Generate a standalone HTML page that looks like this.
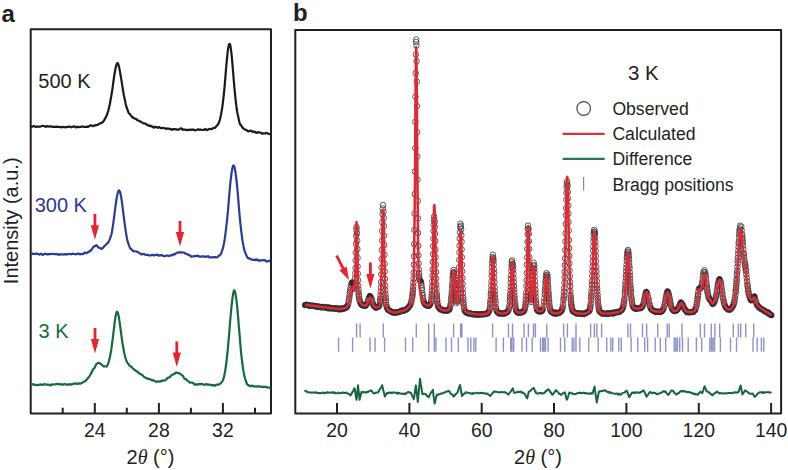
<!DOCTYPE html>
<html><head><meta charset="utf-8"><title>Figure</title>
<style>html,body{margin:0;padding:0;background:#fff;width:788px;height:470px;overflow:hidden;position:relative}</style>
</head><body>
<svg width="788" height="470" viewBox="0 0 788 470" style="position:absolute;left:0;top:0">
<rect width="788" height="470" fill="#fff"/>
<text x="1.5" y="21.5" style="font-family:'Liberation Sans',sans-serif;font-weight:bold;font-size:24px" fill="#231f20">a</text>
<text x="293" y="21" style="font-family:'Liberation Sans',sans-serif;font-weight:bold;font-size:24px" fill="#231f20">b</text>
<g fill="none" stroke="#231f20" stroke-width="2" stroke-linejoin="round">
<path d="M30.7 29.2H271V413.6H30.7Z"/>
<path d="M62.7 413.6V407.8M94.8 413.6V403.1M126.8 413.6V407.8M158.9 413.6V403.1M190.9 413.6V407.8M222.9 413.6V403.1M255.0 413.6V407.8"/>
</g>
<path d="M31.5 126.6L32.1 126.6L32.7 126.4L33.3 126.3L33.9 126.1L34.5 126.3L35.1 126.7L35.7 126.8L36.3 126.7L36.9 126.5L37.5 126.7L38.1 126.8L38.7 126.6L39.3 126.5L39.9 126.6L40.5 126.5L41.1 126.5L41.7 126.0L42.3 126.0L42.9 125.7L43.5 126.0L44.1 126.1L44.7 126.5L45.3 126.6L45.9 126.8L46.5 126.3L47.1 126.1L47.7 126.2L48.3 126.7L48.9 126.5L49.5 126.4L50.1 126.2L50.7 126.4L51.3 126.7L51.9 126.7L52.5 126.9L53.1 126.8L53.7 126.9L54.3 126.9L54.9 126.7L55.5 126.9L56.1 126.7L56.7 126.7L57.3 126.9L57.9 126.9L58.5 127.0L59.1 126.8L59.7 127.0L60.3 127.2L60.9 127.3L61.5 127.2L62.1 126.9L62.7 126.8L63.3 127.0L63.9 127.2L64.5 127.0L65.1 127.2L65.7 127.4L66.3 127.2L66.9 127.1L67.5 126.8L68.1 126.9L68.7 126.7L69.3 126.6L69.9 126.6L70.5 127.0L71.1 127.3L71.7 127.1L72.3 126.8L72.9 126.7L73.5 126.5L74.1 126.6L74.7 126.4L75.3 127.1L75.9 127.3L76.5 127.3L77.1 126.9L77.7 126.7L78.3 127.1L78.9 127.1L79.5 127.0L80.1 126.8L80.7 126.8L81.3 126.8L81.9 126.5L82.5 126.5L83.1 126.5L83.7 126.9L84.3 127.0L84.9 127.0L85.5 126.9L86.1 126.7L86.7 126.8L87.3 126.7L87.9 126.8L88.5 126.3L89.1 126.3L89.7 125.8L90.3 125.5L90.9 125.3L91.5 125.4L92.1 125.8L92.7 126.2L93.3 126.1L93.9 125.8L94.5 125.3L95.1 125.4L95.7 125.3L96.3 125.1L96.9 125.0L97.5 124.9L98.1 124.6L98.7 124.2L99.3 123.8L99.9 123.6L100.5 123.3L101.1 122.8L101.7 122.8L102.3 122.4L102.9 122.1L103.5 121.2L104.1 120.4L104.7 119.2L105.3 118.1L105.9 117.1L106.5 115.7L107.1 114.6L107.7 112.3L108.3 110.8L108.9 108.1L109.5 105.9L110.1 102.8L110.7 99.3L111.3 95.8L111.9 92.2L112.5 88.4L113.1 84.0L113.7 79.5L114.3 75.3L114.9 71.8L115.5 68.5L116.1 66.1L116.7 64.0L117.3 63.2L117.9 63.2L118.5 64.9L119.1 67.1L119.7 70.4L120.3 73.5L120.9 77.0L121.5 80.6L122.1 84.4L122.7 88.3L123.3 92.0L123.9 95.4L124.5 98.3L125.1 101.0L125.7 104.0L126.3 106.4L126.9 108.3L127.5 109.7L128.1 111.6L128.7 112.7L129.3 113.7L129.9 114.2L130.5 114.9L131.1 115.7L131.7 116.4L132.3 117.3L132.9 117.4L133.5 117.9L134.1 118.2L134.7 118.7L135.3 118.7L135.9 118.9L136.5 119.5L137.1 119.9L137.7 120.5L138.3 120.5L138.9 120.8L139.5 121.0L140.1 121.4L140.7 121.7L141.3 122.0L141.9 122.2L142.5 122.8L143.1 123.2L143.7 123.5L144.3 123.5L144.9 123.3L145.5 123.7L146.1 124.2L146.7 124.7L147.3 124.9L147.9 125.1L148.5 125.5L149.1 125.8L149.7 125.7L150.3 126.1L150.9 125.8L151.5 126.3L152.1 126.3L152.7 126.9L153.3 127.2L153.9 127.6L154.5 127.4L155.1 126.8L155.7 126.8L156.3 127.0L156.9 127.4L157.5 127.6L158.1 127.6L158.7 127.2L159.3 127.2L159.9 127.7L160.5 128.1L161.1 128.2L161.7 128.1L162.3 127.9L162.9 128.0L163.5 128.0L164.1 128.1L164.7 128.3L165.3 128.5L165.9 129.0L166.5 128.7L167.1 128.7L167.7 128.4L168.3 128.5L168.9 128.7L169.5 128.8L170.1 129.1L170.7 129.1L171.3 129.7L171.9 129.4L172.5 129.6L173.1 129.2L173.7 129.5L174.3 129.0L174.9 129.0L175.5 129.2L176.1 129.5L176.7 129.6L177.3 129.4L177.9 129.7L178.5 129.7L179.1 129.3L179.7 129.0L180.3 128.6L180.9 128.4L181.5 128.5L182.1 129.1L182.7 129.8L183.3 129.7L183.9 129.3L184.5 129.5L185.1 129.8L185.7 130.0L186.3 129.8L186.9 129.8L187.5 129.9L188.1 130.1L188.7 130.1L189.3 129.7L189.9 129.7L190.5 129.6L191.1 130.0L191.7 129.6L192.3 129.8L192.9 129.5L193.5 129.5L194.1 129.9L194.7 130.2L195.3 130.4L195.9 130.2L196.5 130.0L197.1 129.5L197.7 129.4L198.3 129.3L198.9 129.9L199.5 129.6L200.1 129.5L200.7 129.5L201.3 129.9L201.9 130.0L202.5 130.0L203.1 130.0L203.7 129.8L204.3 129.7L204.9 129.0L205.5 129.4L206.1 129.6L206.7 130.1L207.3 129.9L207.9 129.6L208.5 129.4L209.1 129.1L209.7 129.0L210.3 128.8L210.9 129.1L211.5 129.1L212.1 128.9L212.7 128.3L213.3 127.9L213.9 128.0L214.5 128.0L215.1 127.8L215.7 127.0L216.3 126.2L216.9 125.6L217.5 125.1L218.1 124.3L218.7 123.1L219.3 121.4L219.9 119.6L220.5 117.0L221.1 114.2L221.7 110.6L222.3 107.1L222.9 102.4L223.5 97.4L224.1 91.6L224.7 85.3L225.3 78.2L225.9 70.9L226.5 64.0L227.1 57.4L227.7 51.7L228.3 47.6L228.9 44.9L229.5 43.9L230.1 44.4L230.7 47.6L231.3 52.1L231.9 58.0L232.5 64.9L233.1 72.0L233.7 79.5L234.3 86.4L234.9 93.0L235.5 98.8L236.1 104.2L236.7 108.8L237.3 112.5L237.9 115.3L238.5 118.1L239.1 120.9L239.7 123.2L240.3 124.5L240.9 125.3L241.5 126.0L242.1 127.0L242.7 127.8L243.3 128.4L243.9 128.9L244.5 129.2L245.1 129.5L245.7 129.8L246.3 130.1L246.9 130.4L247.5 130.9L248.1 131.3L248.7 131.3L249.3 130.8L249.9 130.9L250.5 130.7L251.1 130.8L251.7 131.1L252.3 131.7L252.9 132.1L253.5 131.7L254.1 131.6L254.7 131.6L255.3 132.1L255.9 132.7L256.5 133.0L257.1 132.8L257.7 132.2L258.3 132.2L258.9 132.4L259.5 132.5L260.1 132.6L260.7 132.5L261.3 133.0L261.9 133.3L262.5 133.8L263.1 133.5L263.7 133.5L264.3 133.3L264.9 133.4L265.5 133.3L266.1 133.1L266.7 132.9L267.3 133.2L267.9 133.5L268.5 133.9L269.1 134.0L269.7 134.1" fill="none" stroke="#1a1a1a" stroke-width="2.2" stroke-linejoin="round" stroke-linecap="round"/>
<path d="M31.5 253.3L32.1 253.3L32.7 253.8L33.3 253.9L33.9 254.1L34.5 254.0L35.1 253.9L35.7 253.5L36.3 253.7L36.9 254.0L37.5 253.8L38.1 254.0L38.7 254.0L39.3 254.7L39.9 254.3L40.5 254.2L41.1 253.7L41.7 254.3L42.3 254.3L42.9 254.9L43.5 254.3L44.1 254.4L44.7 253.7L45.3 253.8L45.9 254.0L46.5 254.1L47.1 254.4L47.7 254.2L48.3 254.3L48.9 254.0L49.5 253.9L50.1 254.1L50.7 254.1L51.3 254.0L51.9 254.0L52.5 253.9L53.1 253.8L53.7 253.9L54.3 254.2L54.9 254.2L55.5 254.2L56.1 253.9L56.7 254.0L57.3 254.2L57.9 254.3L58.5 254.8L59.1 254.4L59.7 254.6L60.3 254.3L60.9 254.3L61.5 254.3L62.1 254.3L62.7 254.6L63.3 254.5L63.9 254.3L64.5 254.2L65.1 254.2L65.7 254.6L66.3 254.4L66.9 254.4L67.5 253.9L68.1 254.2L68.7 254.0L69.3 254.0L69.9 253.8L70.5 254.2L71.1 254.3L71.7 254.1L72.3 253.7L72.9 253.8L73.5 254.0L74.1 254.0L74.7 254.1L75.3 254.1L75.9 254.1L76.5 254.3L77.1 254.0L77.7 253.8L78.3 253.4L78.9 253.9L79.5 254.0L80.1 254.4L80.7 254.0L81.3 254.0L81.9 253.9L82.5 254.2L83.1 253.9L83.7 253.5L84.3 252.8L84.9 252.6L85.5 253.0L86.1 253.2L86.7 253.1L87.3 252.5L87.9 252.0L88.5 252.2L89.1 251.6L89.7 251.4L90.3 250.4L90.9 250.7L91.5 249.7L92.1 249.2L92.7 247.9L93.3 247.0L93.9 246.6L94.5 246.4L95.1 246.1L95.7 245.5L96.3 245.2L96.9 245.6L97.5 246.3L98.1 247.2L98.7 247.7L99.3 247.8L99.9 248.1L100.5 248.2L101.1 248.7L101.7 248.9L102.3 248.7L102.9 247.9L103.5 247.1L104.1 246.5L104.7 245.9L105.3 245.3L105.9 244.6L106.5 244.2L107.1 243.5L107.7 243.1L108.3 242.2L108.9 241.2L109.5 239.9L110.1 238.5L110.7 236.7L111.3 234.7L111.9 231.9L112.5 228.4L113.1 224.6L113.7 220.1L114.3 215.7L114.9 210.9L115.5 206.1L116.1 201.8L116.7 198.0L117.3 195.1L117.9 192.5L118.5 190.9L119.1 190.3L119.7 191.1L120.3 192.8L120.9 195.7L121.5 199.0L122.1 203.3L122.7 207.9L123.3 213.0L123.9 217.7L124.5 222.6L125.1 226.7L125.7 231.0L126.3 234.6L126.9 238.2L127.5 240.9L128.1 242.9L128.7 244.7L129.3 246.2L129.9 247.6L130.5 248.6L131.1 248.9L131.7 249.5L132.3 250.2L132.9 251.0L133.5 251.3L134.1 251.1L134.7 251.3L135.3 251.5L135.9 251.5L136.5 251.6L137.1 251.6L137.7 252.0L138.3 252.0L138.9 252.8L139.5 253.2L140.1 253.6L140.7 253.8L141.3 254.4L141.9 254.5L142.5 254.2L143.1 253.8L143.7 253.8L144.3 254.1L144.9 254.5L145.5 254.8L146.1 255.0L146.7 254.9L147.3 254.9L147.9 254.9L148.5 255.3L149.1 255.5L149.7 255.5L150.3 255.4L150.9 255.3L151.5 255.0L152.1 254.8L152.7 254.9L153.3 255.1L153.9 255.5L154.5 255.1L155.1 255.0L155.7 254.9L156.3 255.1L156.9 254.7L157.5 254.8L158.1 255.1L158.7 255.7L159.3 255.6L159.9 255.4L160.5 255.5L161.1 255.1L161.7 255.1L162.3 255.1L162.9 255.8L163.5 256.1L164.1 256.2L164.7 256.2L165.3 255.9L165.9 255.8L166.5 255.6L167.1 255.5L167.7 255.5L168.3 256.0L168.9 255.9L169.5 255.7L170.1 255.3L170.7 255.5L171.3 255.4L171.9 255.5L172.5 254.9L173.1 254.7L173.7 254.1L174.3 254.3L174.9 254.3L175.5 253.8L176.1 253.2L176.7 252.8L177.3 252.7L177.9 252.4L178.5 252.3L179.1 252.4L179.7 252.7L180.3 252.3L180.9 252.4L181.5 252.3L182.1 252.7L182.7 252.4L183.3 252.5L183.9 252.5L184.5 252.8L185.1 253.4L185.7 253.7L186.3 253.9L186.9 254.0L187.5 254.2L188.1 254.8L188.7 254.9L189.3 255.1L189.9 255.3L190.5 256.1L191.1 256.7L191.7 256.6L192.3 256.3L192.9 256.3L193.5 256.4L194.1 256.2L194.7 256.0L195.3 256.2L195.9 256.2L196.5 255.9L197.1 255.6L197.7 255.9L198.3 256.1L198.9 256.4L199.5 256.4L200.1 256.7L200.7 256.6L201.3 256.7L201.9 256.4L202.5 256.5L203.1 256.2L203.7 256.6L204.3 256.7L204.9 256.8L205.5 256.5L206.1 256.5L206.7 256.8L207.3 256.6L207.9 256.4L208.5 256.2L209.1 257.1L209.7 257.5L210.3 257.5L210.9 257.2L211.5 257.4L212.1 257.4L212.7 257.2L213.3 257.0L213.9 257.2L214.5 257.4L215.1 257.0L215.7 257.3L216.3 257.4L216.9 257.5L217.5 257.2L218.1 256.2L218.7 255.9L219.3 255.3L219.9 255.3L220.5 254.6L221.1 253.6L221.7 251.9L222.3 250.2L222.9 248.1L223.5 245.9L224.1 242.7L224.7 239.2L225.3 234.6L225.9 230.2L226.5 225.0L227.1 219.8L227.7 213.6L228.3 207.0L228.9 199.7L229.5 192.4L230.1 185.7L230.7 180.1L231.3 175.0L231.9 170.6L232.5 167.7L233.1 165.5L233.7 165.5L234.3 166.3L234.9 168.9L235.5 172.3L236.1 176.9L236.7 182.3L237.3 188.2L237.9 194.9L238.5 202.2L239.1 209.7L239.7 216.6L240.3 222.6L240.9 227.9L241.5 233.2L242.1 237.7L242.7 242.0L243.3 245.1L243.9 248.1L244.5 250.4L245.1 252.5L245.7 253.8L246.3 255.1L246.9 256.6L247.5 257.5L248.1 258.1L248.7 258.2L249.3 258.7L249.9 258.8L250.5 258.9L251.1 259.1L251.7 259.5L252.3 259.7L252.9 259.9L253.5 259.8L254.1 259.9L254.7 259.6L255.3 260.1L255.9 259.7L256.5 259.8L257.1 259.4L257.7 260.0L258.3 260.3L258.9 260.8L259.5 260.4L260.1 260.5L260.7 260.2L261.3 260.5L261.9 260.5L262.5 260.4L263.1 260.2L263.7 260.1L264.3 260.1L264.9 260.4L265.5 260.6L266.1 261.1L266.7 261.6L267.3 261.5L267.9 261.2L268.5 260.8L269.1 260.7L269.7 261.1" fill="none" stroke="#2a3c96" stroke-width="2.2" stroke-linejoin="round" stroke-linecap="round"/>
<path d="M31.5 384.5L32.1 384.4L32.7 384.2L33.3 384.3L33.9 384.4L34.5 384.9L35.1 384.8L35.7 384.9L36.3 384.9L36.9 385.1L37.5 385.1L38.1 385.1L38.7 385.0L39.3 384.6L39.9 384.5L40.5 384.4L41.1 384.7L41.7 384.5L42.3 384.9L42.9 384.8L43.5 384.9L44.1 384.2L44.7 384.1L45.3 384.3L45.9 384.5L46.5 384.6L47.1 384.5L47.7 384.8L48.3 384.6L48.9 384.7L49.5 384.8L50.1 385.4L50.7 385.3L51.3 385.0L51.9 384.3L52.5 384.6L53.1 384.5L53.7 384.5L54.3 384.4L54.9 384.4L55.5 384.3L56.1 384.2L56.7 384.0L57.3 383.8L57.9 383.8L58.5 384.3L59.1 384.5L59.7 384.2L60.3 384.1L60.9 384.3L61.5 384.7L62.1 384.8L62.7 384.4L63.3 384.4L63.9 384.3L64.5 384.2L65.1 383.9L65.7 384.3L66.3 384.5L66.9 384.9L67.5 384.5L68.1 384.6L68.7 384.2L69.3 384.2L69.9 384.5L70.5 384.7L71.1 384.6L71.7 384.1L72.3 383.9L72.9 384.2L73.5 384.1L74.1 383.6L74.7 383.3L75.3 383.3L75.9 383.6L76.5 383.9L77.1 383.9L77.7 383.9L78.3 383.3L78.9 383.4L79.5 383.5L80.1 383.8L80.7 383.5L81.3 383.0L81.9 383.0L82.5 382.5L83.1 382.2L83.7 381.7L84.3 381.7L84.9 381.3L85.5 380.8L86.1 380.2L86.7 379.7L87.3 379.0L87.9 378.2L88.5 377.4L89.1 376.7L89.7 375.8L90.3 374.8L90.9 373.7L91.5 372.6L92.1 371.5L92.7 370.0L93.3 369.2L93.9 368.5L94.5 368.0L95.1 366.7L95.7 365.4L96.3 364.2L96.9 363.7L97.5 363.4L98.1 362.9L98.7 363.0L99.3 362.8L99.9 363.6L100.5 363.9L101.1 364.2L101.7 364.6L102.3 365.2L102.9 365.9L103.5 366.4L104.1 366.5L104.7 366.3L105.3 366.5L105.9 366.5L106.5 366.6L107.1 365.7L107.7 364.7L108.3 363.2L108.9 361.2L109.5 358.7L110.1 356.3L110.7 352.9L111.3 349.5L111.9 344.9L112.5 340.4L113.1 335.6L113.7 330.7L114.3 325.6L114.9 320.6L115.5 316.7L116.1 314.1L116.7 312.2L117.3 311.7L117.9 312.8L118.5 315.2L119.1 318.7L119.7 322.7L120.3 327.2L120.9 331.6L121.5 336.1L122.1 340.5L122.7 344.4L123.3 347.8L123.9 351.1L124.5 354.0L125.1 356.6L125.7 358.6L126.3 360.3L126.9 362.0L127.5 362.8L128.1 363.8L128.7 364.1L129.3 365.4L129.9 366.2L130.5 366.5L131.1 366.5L131.7 366.8L132.3 367.8L132.9 368.7L133.5 369.0L134.1 369.4L134.7 369.9L135.3 370.4L135.9 371.0L136.5 371.0L137.1 371.6L137.7 371.7L138.3 372.8L138.9 373.1L139.5 373.6L140.1 373.9L140.7 374.2L141.3 374.6L141.9 374.6L142.5 375.2L143.1 375.9L143.7 376.7L144.3 377.1L144.9 377.5L145.5 377.6L146.1 377.9L146.7 378.1L147.3 378.6L147.9 378.8L148.5 378.9L149.1 378.9L149.7 379.2L150.3 379.3L150.9 379.7L151.5 379.8L152.1 380.3L152.7 380.1L153.3 380.4L153.9 380.6L154.5 380.8L155.1 381.2L155.7 381.4L156.3 381.9L156.9 381.8L157.5 381.7L158.1 381.3L158.7 381.3L159.3 381.5L159.9 381.6L160.5 381.4L161.1 381.0L161.7 380.9L162.3 380.5L162.9 380.8L163.5 380.5L164.1 380.7L164.7 380.3L165.3 380.2L165.9 379.8L166.5 379.1L167.1 378.5L167.7 377.9L168.3 377.6L168.9 377.6L169.5 377.3L170.1 377.1L170.7 375.9L171.3 375.7L171.9 374.9L172.5 374.7L173.1 374.3L173.7 374.2L174.3 373.9L174.9 373.5L175.5 372.7L176.1 372.7L176.7 372.5L177.3 372.9L177.9 372.9L178.5 373.5L179.1 373.2L179.7 373.5L180.3 373.7L180.9 374.5L181.5 375.0L182.1 375.3L182.7 375.7L183.3 376.5L183.9 377.7L184.5 378.8L185.1 379.2L185.7 379.1L186.3 379.3L186.9 380.3L187.5 380.8L188.1 381.2L188.7 381.6L189.3 382.3L189.9 382.7L190.5 382.6L191.1 382.4L191.7 382.5L192.3 382.5L192.9 383.2L193.5 383.3L194.1 384.0L194.7 384.3L195.3 384.8L195.9 384.5L196.5 384.4L197.1 384.4L197.7 384.6L198.3 384.2L198.9 384.0L199.5 383.9L200.1 384.4L200.7 384.0L201.3 384.1L201.9 383.8L202.5 384.2L203.1 384.5L203.7 384.6L204.3 384.6L204.9 384.8L205.5 384.4L206.1 384.4L206.7 384.1L207.3 384.6L207.9 384.6L208.5 384.6L209.1 384.5L209.7 384.6L210.3 384.9L210.9 384.9L211.5 385.1L212.1 385.5L212.7 385.4L213.3 385.1L213.9 385.1L214.5 385.6L215.1 385.6L215.7 385.0L216.3 384.8L216.9 384.6L217.5 384.5L218.1 384.7L218.7 384.6L219.3 384.4L219.9 383.7L220.5 383.4L221.1 382.8L221.7 382.2L222.3 381.4L222.9 380.3L223.5 378.7L224.1 376.4L224.7 373.6L225.3 370.1L225.9 366.0L226.5 361.5L227.1 356.0L227.7 350.3L228.3 343.7L228.9 336.9L229.5 329.3L230.1 322.0L230.7 315.2L231.3 308.5L231.9 303.1L232.5 298.0L233.1 294.0L233.7 291.3L234.3 290.2L234.9 291.3L235.5 293.8L236.1 297.8L236.7 302.3L237.3 307.7L237.9 314.4L238.5 321.8L239.1 329.2L239.7 336.3L240.3 343.7L240.9 350.6L241.5 356.5L242.1 361.5L242.7 366.2L243.3 370.2L243.9 373.4L244.5 376.2L245.1 378.5L245.7 380.5L246.3 382.0L246.9 383.8L247.5 384.5L248.1 385.1L248.7 385.0L249.3 385.6L249.9 386.1L250.5 386.2L251.1 386.1L251.7 385.7L252.3 385.7L252.9 386.0L253.5 386.4L254.1 386.4L254.7 386.3L255.3 386.3L255.9 386.7L256.5 386.6L257.1 386.6L257.7 386.2L258.3 386.1L258.9 386.5L259.5 386.5L260.1 386.7L260.7 386.5L261.3 386.9L261.9 386.8L262.5 386.8L263.1 386.9L263.7 387.1L264.3 386.8L264.9 386.8L265.5 386.7L266.1 387.0L266.7 387.1L267.3 387.4L267.9 387.7L268.5 387.6L269.1 387.7L269.7 387.6" fill="none" stroke="#156b3d" stroke-width="2.2" stroke-linejoin="round" stroke-linecap="round"/>
<path d="M93.5 213.9H96.3V225.3H99.0L94.9 239.8L90.8 225.3H93.5Z" fill="#e8232f"/>
<path d="M178.6 221.0H181.4V232.0H184.1L180.0 246.5L175.9 232.0H178.6Z" fill="#e8232f"/>
<path d="M93.6 328.0H96.4V339.1H99.1L95.0 353.6L90.9 339.1H93.6Z" fill="#e8232f"/>
<path d="M175.4 341.4H178.2V352.4H180.9L176.8 366.9L172.7 352.4H175.4Z" fill="#e8232f"/>
<text x="38.3" y="88.2" style="font-family:'Liberation Sans',sans-serif;font-size:20px" fill="#231f20">500 K</text>
<text x="34.7" y="212.1" style="font-family:'Liberation Sans',sans-serif;font-size:20px" fill="#2b3990">300 K</text>
<text x="38.6" y="337.6" style="font-family:'Liberation Sans',sans-serif;font-size:20px" fill="#166b3e">3 K</text>
<text x="94.8" y="436.8" text-anchor="middle" style="font-family:'Liberation Sans',sans-serif;font-size:19.4px" fill="#231f20">24</text>
<text x="158.9" y="436.8" text-anchor="middle" style="font-family:'Liberation Sans',sans-serif;font-size:19.4px" fill="#231f20">28</text>
<text x="222.9" y="436.8" text-anchor="middle" style="font-family:'Liberation Sans',sans-serif;font-size:19.4px" fill="#231f20">32</text>
<text x="150.5" y="463.6" text-anchor="middle" style="font-family:'Liberation Sans',sans-serif;font-size:20px" fill="#231f20">2<tspan style="font-family:'Liberation Serif',serif;font-style:italic">θ</tspan> (°)</text>
<text transform="translate(18.2 220.8) rotate(-90)" text-anchor="middle" style="font-family:'Liberation Sans',sans-serif;font-size:20px" fill="#231f20">Intensity (a.u.)</text>
<g fill="none" stroke="#231f20" stroke-width="2" stroke-linejoin="round">
<path d="M295.3 30H781.1V413.6H295.3Z"/>
<path d="M337.0 413.6V403M409.4 413.6V403M481.7 413.6V403M554.0 413.6V403M626.4 413.6V403M698.8 413.6V403M771.1 413.6V403"/>
</g>
<text x="337.0" y="436.8" text-anchor="middle" style="font-family:'Liberation Sans',sans-serif;font-size:19.4px" fill="#231f20">20</text>
<text x="409.4" y="436.8" text-anchor="middle" style="font-family:'Liberation Sans',sans-serif;font-size:19.4px" fill="#231f20">40</text>
<text x="481.7" y="436.8" text-anchor="middle" style="font-family:'Liberation Sans',sans-serif;font-size:19.4px" fill="#231f20">60</text>
<text x="554.0" y="436.8" text-anchor="middle" style="font-family:'Liberation Sans',sans-serif;font-size:19.4px" fill="#231f20">80</text>
<text x="626.4" y="436.8" text-anchor="middle" style="font-family:'Liberation Sans',sans-serif;font-size:19.4px" fill="#231f20">100</text>
<text x="698.8" y="436.8" text-anchor="middle" style="font-family:'Liberation Sans',sans-serif;font-size:19.4px" fill="#231f20">120</text>
<text x="771.1" y="436.8" text-anchor="middle" style="font-family:'Liberation Sans',sans-serif;font-size:19.4px" fill="#231f20">140</text>
<text x="538" y="464.2" text-anchor="middle" style="font-family:'Liberation Sans',sans-serif;font-size:20px" fill="#231f20">2<tspan style="font-family:'Liberation Serif',serif;font-style:italic">θ</tspan> (°)</text>
<path d="M356.6 323.6V337.6M360.1 323.6V337.6M383.3 323.6V337.6M416.3 323.6V337.6M428.7 323.6V337.6M434.3 323.6V337.6M453.6 323.6V337.6M460.6 323.6V337.6M461.9 323.6V337.6M492.6 323.6V337.6M508.5 323.6V337.6M512.6 323.6V337.6M512.5 323.6V337.6M524.0 323.6V337.6M528.4 323.6V337.6M533.5 323.6V337.6M535.4 323.6V337.6M546.8 323.6V337.6M563.6 323.6V337.6M567.4 323.6V337.6M576.0 323.6V337.6M590.6 323.6V337.6M594.4 323.6V337.6M596.9 323.6V337.6M601.6 323.6V337.6M627.9 323.6V337.6M630.5 323.6V337.6M642.5 323.6V337.6M646.7 323.6V337.6M657.7 323.6V337.6M667.3 323.6V337.6M669.2 323.6V337.6M681.9 323.6V337.6M700.3 323.6V337.6M704.5 323.6V337.6M711.2 323.6V337.6M714.9 323.6V337.6M719.7 323.6V337.6M733.3 323.6V337.6M738.4 323.6V337.6M740.7 323.6V337.6M745.7 323.6V337.6M753.7 323.6V337.6M338.6 337.6V351.8M352.6 337.6V351.8M370.0 337.6V351.8M375.0 337.6V351.8M384.6 337.6V351.8M405.5 337.6V351.8M412.7 337.6V351.8M428.7 337.6V351.8M434.3 337.6V351.8M435.9 337.6V351.8M446.0 337.6V351.8M451.5 337.6V351.8M458.3 337.6V351.8M468.0 337.6V351.8M470.8 337.6V351.8M473.9 337.6V351.8M475.8 337.6V351.8M496.1 337.6V351.8M503.4 337.6V351.8M510.7 337.6V351.8M512.0 337.6V351.8M513.7 337.6V351.8M522.0 337.6V351.8M526.5 337.6V351.8M532.2 337.6V351.8M540.5 337.6V351.8M542.7 337.6V351.8M544.0 337.6V351.8M545.5 337.6V351.8M548.1 337.6V351.8M560.5 337.6V351.8M564.8 337.6V351.8M572.2 337.6V351.8M574.0 337.6V351.8M576.0 337.6V351.8M579.8 337.6V351.8M588.7 337.6V351.8M598.2 337.6V351.8M606.7 337.6V351.8M610.8 337.6V351.8M612.7 337.6V351.8M618.8 337.6V351.8M621.3 337.6V351.8M631.1 337.6V351.8M637.8 337.6V351.8M644.7 337.6V351.8M647.6 337.6V351.8M655.2 337.6V351.8M660.3 337.6V351.8M665.7 337.6V351.8M674.2 337.6V351.8M675.8 337.6V351.8M677.4 337.6V351.8M679.7 337.6V351.8M682.5 337.6V351.8M688.2 337.6V351.8M696.4 337.6V351.8M701.7 337.6V351.8M709.8 337.6V351.8M711.5 337.6V351.8M713.0 337.6V351.8M714.6 337.6V351.8M720.4 337.6V351.8M730.5 337.6V351.8M736.5 337.6V351.8M753.0 337.6V351.8M757.2 337.6V351.8M761.4 337.6V351.8M763.8 337.6V351.8" stroke="#8d92ca" stroke-width="1.4" fill="none"/>
<path d="M305.0 305.1L305.2 305.1L305.4 305.2L305.5 304.7L305.7 304.8L305.9 305.1L306.1 304.4L306.3 304.9L306.4 304.7L306.6 304.8L306.8 304.4L307.0 304.7L307.2 305.0L307.4 305.3L307.5 305.4L307.7 305.1L307.9 305.1L308.1 304.9L308.3 305.3L308.4 305.1L308.6 305.4L308.8 305.8L309.0 305.3L309.2 304.8L309.3 305.1L309.5 304.9L309.7 305.0L309.9 305.8L310.1 305.5L310.2 305.0L310.4 305.7L310.6 305.9L310.8 305.4L311.0 305.3L311.1 305.5L311.3 305.7L311.5 305.8L311.7 306.0L311.9 306.0L312.1 306.1L312.2 306.1L312.4 306.0L312.6 305.3L312.8 305.8L313.0 305.9L313.1 305.7L313.3 306.2L313.5 305.8L313.7 305.7L313.9 306.4L314.0 306.2L314.2 306.1L314.4 306.3L314.6 306.4L314.8 306.2L314.9 305.4L315.1 305.9L315.3 306.0L315.5 305.9L315.7 306.3L315.9 306.6L316.0 306.1L316.2 306.0L316.4 306.9L316.6 306.2L316.8 306.0L316.9 306.5L317.1 306.5L317.3 306.2L317.5 306.7L317.7 306.3L317.8 306.2L318.0 306.6L318.2 306.8L318.4 306.4L318.6 306.7L318.7 306.6L318.9 307.5L319.1 306.5L319.3 307.1L319.5 306.7L319.7 306.7L319.8 307.0L320.0 307.1L320.2 307.2L320.4 307.0L320.6 306.7L320.7 306.7L320.9 307.1L321.1 307.1L321.3 307.4L321.5 307.1L321.6 307.3L321.8 307.5L322.0 307.1L322.2 306.6L322.4 306.7L322.5 306.7L322.7 307.6L322.9 306.9L323.1 307.5L323.3 307.4L323.4 307.7L323.6 307.5L323.8 307.2L324.0 307.2L324.2 307.3L324.4 307.4L324.5 307.2L324.7 307.4L324.9 307.9L325.1 306.9L325.3 307.5L325.4 307.2L325.6 307.5L325.8 307.7L326.0 307.5L326.2 307.8L326.3 307.1L326.5 307.9L326.7 307.4L326.9 307.8L327.1 307.7L327.2 306.9L327.4 307.5L327.6 307.8L327.8 308.2L328.0 307.8L328.2 307.8L328.3 307.4L328.5 308.2L328.7 308.4L328.9 307.9L329.1 307.8L329.2 307.4L329.4 308.2L329.6 308.7L329.8 308.2L330.0 308.3L330.1 308.1L330.3 307.7L330.5 308.4L330.7 307.7L330.9 308.0L331.0 308.2L331.2 308.4L331.4 308.2L331.6 308.3L331.8 307.9L332.0 307.8L332.1 308.2L332.3 308.0L332.5 307.9L332.7 307.9L332.9 308.1L333.0 307.7L333.2 307.9L333.4 307.9L333.6 308.4L333.8 308.5L333.9 309.0L334.1 308.0L334.3 308.2L334.5 308.7L334.7 308.4L334.8 308.4L335.0 309.0L335.2 308.4L335.4 308.2L335.6 308.2L335.7 308.7L335.9 308.7L336.1 308.2L336.3 308.4L336.5 308.8L336.7 308.9L336.8 308.5L337.0 308.9L337.2 308.9L337.4 308.2L337.6 308.7L337.7 308.9L337.9 308.6L338.1 308.2L338.3 308.8L338.5 309.1L338.6 309.4L338.8 308.2L339.0 309.7L339.2 308.6L339.4 309.2L339.5 309.3L339.7 309.3L339.9 309.1L340.1 308.7L340.3 309.2L340.5 308.7L340.6 308.2L340.8 309.7L341.0 309.1L341.2 309.4L341.4 308.5L341.5 309.2L341.7 309.2L341.9 309.2L342.1 308.7L342.3 308.3L342.4 308.6L342.6 307.9L342.8 308.0L343.0 308.5L343.2 308.2L343.3 308.4L343.5 308.4L343.7 309.0L343.9 308.7L344.1 308.3L344.2 308.6L344.4 308.0L344.6 308.1L344.8 308.4L345.0 307.7L345.2 308.0L345.3 307.6L345.5 308.0L345.7 308.4L345.9 307.6L346.1 307.8L346.2 307.3L346.4 307.1L346.6 306.9L346.8 307.6L347.0 307.6L347.1 306.8L347.3 306.1M351.7 282.7L351.8 283.4L352.0 282.7L352.2 282.2M360.5 303.5L360.7 303.5L360.9 304.1L361.1 304.0L361.3 304.5L361.4 304.1L361.6 304.6L361.8 305.4L362.0 304.3L362.2 305.2L362.3 305.5L362.5 305.2L362.7 305.4L362.9 305.7L363.1 305.2L363.2 305.6L363.4 305.2L363.6 305.4L363.8 305.4L364.0 305.6L364.1 305.7L364.3 305.9L364.5 305.3L364.7 306.4L364.9 306.1L365.1 305.9L365.2 305.5L365.4 305.6L365.6 305.7L365.8 305.5L366.0 304.7L366.1 305.3L366.3 305.8L366.5 304.1L366.7 304.6L366.9 304.1M369.6 296.5L369.8 295.5L369.9 296.1L370.1 295.7L370.3 295.9L370.5 296.6L370.7 296.1M373.7 305.3L373.9 306.0L374.1 306.3L374.3 306.3L374.5 306.4L374.6 306.8L374.8 306.4L375.0 306.7L375.2 307.4L375.4 307.1L375.5 307.5L375.7 307.8L375.9 307.7L376.1 307.5L376.3 308.2L376.4 307.7L376.6 307.4L376.8 307.7L377.0 307.6L377.2 307.2L377.4 307.4L377.5 307.3L377.7 306.7L377.9 307.1L378.1 307.0L378.3 306.9L378.4 306.4L378.6 306.6L378.8 306.5L379.0 306.3L379.2 305.6M387.3 308.6L387.5 309.5L387.7 309.2L387.8 309.8L388.0 309.7L388.2 310.0L388.4 309.5L388.6 310.1L388.7 310.3L388.9 310.3L389.1 309.9L389.3 310.9L389.5 310.7L389.6 310.8L389.8 310.9L390.0 311.1L390.2 311.3L390.4 310.9L390.6 311.1L390.7 311.6L390.9 311.6L391.1 311.5L391.3 311.6L391.5 311.6L391.6 311.9L391.8 312.3L392.0 311.7L392.2 312.5L392.4 312.4L392.5 312.1L392.7 312.5L392.9 311.9L393.1 311.9L393.3 312.1L393.4 312.4L393.6 312.5L393.8 312.5L394.0 312.7L394.2 312.0L394.4 312.8L394.5 312.2L394.7 312.4L394.9 312.5L395.1 312.2L395.3 312.1L395.4 312.2L395.6 312.5L395.8 312.6L396.0 312.6L396.2 312.1L396.3 312.2L396.5 312.1L396.7 312.5L396.9 311.7L397.1 312.6L397.2 312.1L397.4 312.0L397.6 312.3L397.8 312.5L398.0 312.2L398.2 312.4L398.3 312.1L398.5 312.4L398.7 312.3L398.9 311.9L399.1 312.3L399.2 311.9L399.4 311.8L399.6 311.5L399.8 311.7L400.0 311.9L400.1 311.3L400.3 311.8L400.5 311.7L400.7 311.6L400.9 310.8L401.0 311.4L401.2 311.6L401.4 311.1L401.6 311.3L401.8 310.5L401.9 311.4L402.1 310.9L402.3 311.3L402.5 310.5L402.7 311.2L402.9 310.8L403.0 311.1L403.2 310.5L403.4 310.5L403.6 311.3L403.8 310.3L403.9 310.3L404.1 310.4L404.3 310.1L404.5 310.7L404.7 310.7L404.8 309.9L405.0 309.5L405.2 310.3L405.4 310.2L405.6 310.0L405.7 310.0L405.9 309.3L406.1 309.4L406.3 309.0L406.5 308.8L406.7 309.4L406.8 308.8L407.0 309.6L407.2 308.8L407.4 308.4L407.6 308.7L407.7 308.8L407.9 308.3L408.1 307.6L408.3 307.9L408.5 308.0L408.6 307.2L408.8 306.9L409.0 307.2L409.2 306.7L409.4 306.1L409.5 306.0L409.7 305.6L409.9 305.6M419.9 281.0L420.0 280.3L420.2 280.7L420.4 280.7L420.6 280.9M424.4 303.4L424.6 303.7L424.7 303.9L424.9 304.1L425.1 304.3L425.3 304.4L425.5 304.8L425.6 304.4L425.8 305.2L426.0 304.7L426.2 305.2L426.4 305.0L426.5 305.1L426.7 305.8L426.9 305.2L427.1 305.0L427.3 305.3L427.5 305.4L427.6 306.2L427.8 305.7L428.0 305.9L428.2 305.4L428.4 305.8L428.5 305.9L428.7 306.2L428.9 305.4L429.1 305.8L429.3 305.6L429.4 305.2L429.6 305.4L429.8 305.2L430.0 304.4L430.2 305.0L430.3 304.7M438.5 307.0L438.7 307.0L438.8 307.8L439.0 307.9L439.2 308.0L439.4 308.1L439.6 308.4L439.8 308.4L439.9 308.9L440.1 309.4L440.3 308.5L440.5 309.1L440.7 309.1L440.8 309.5L441.0 309.2L441.2 309.5L441.4 309.3L441.6 309.9L441.7 309.8L441.9 309.8L442.1 310.0L442.3 309.9L442.5 309.6L442.6 310.3L442.8 310.2L443.0 310.1L443.2 310.5L443.4 310.6L443.6 310.0L443.7 310.1L443.9 310.9L444.1 310.8L444.3 310.2L444.5 310.1L444.6 310.3L444.8 310.4L445.0 310.1L445.2 310.5L445.4 310.2L445.5 310.2L445.7 310.8L445.9 310.4L446.1 310.5L446.3 310.7L446.4 310.8L446.6 310.4L446.8 310.5L447.0 310.3L447.2 311.0L447.3 310.6L447.5 310.1L447.7 310.4L447.9 310.5L448.1 310.4L448.3 310.7L448.4 310.5L448.6 309.8L448.8 309.8L449.0 309.3L449.2 309.6L449.3 309.3L449.5 309.8M464.9 311.0L465.1 311.0L465.3 311.0L465.4 311.9L465.6 312.3L465.8 311.6L466.0 312.0L466.2 312.5L466.3 312.4L466.5 313.0L466.7 312.4L466.9 312.8L467.1 312.4L467.2 313.5L467.4 312.7L467.6 312.3L467.8 313.0L468.0 313.1L468.1 313.7L468.3 313.1L468.5 313.3L468.7 313.5L468.9 313.9L469.1 313.4L469.2 313.8L469.4 313.7L469.6 313.5L469.8 313.6L470.0 313.6L470.1 313.4L470.3 314.1L470.5 313.3L470.7 314.1L470.9 314.1L471.0 313.8L471.2 313.6L471.4 313.8L471.6 314.0L471.8 314.1L471.9 314.0L472.1 314.3L472.3 313.8L472.5 314.1L472.7 313.6L472.9 314.3L473.0 314.1L473.2 314.0L473.4 314.4L473.6 314.3L473.8 313.3L473.9 314.2L474.1 313.7L474.3 314.5L474.5 314.9L474.7 314.0L474.8 314.2L475.0 314.2L475.2 314.3L475.4 314.4L475.6 314.7L475.7 314.0L475.9 314.8L476.1 314.0L476.3 314.4L476.5 314.7L476.7 314.5L476.8 314.1L477.0 314.1L477.2 314.2L477.4 314.4L477.6 314.7L477.7 314.0L477.9 314.5L478.1 314.6L478.3 314.6L478.5 314.6L478.6 314.9L478.8 314.6L479.0 314.7L479.2 314.6L479.4 315.0L479.5 313.9L479.7 314.8L479.9 314.4L480.1 314.4L480.3 314.1L480.4 313.9L480.6 314.3L480.8 314.2L481.0 314.5L481.2 313.9L481.4 314.8L481.5 314.4L481.7 314.3L481.9 314.1L482.1 314.1L482.3 314.0L482.4 314.1L482.6 314.3L482.8 314.2L483.0 313.8L483.2 314.2L483.3 313.9L483.5 314.2L483.7 314.7L483.9 314.3L484.1 314.0L484.2 313.6L484.4 313.6L484.6 313.5L484.8 314.2L485.0 313.8L485.2 314.0L485.3 313.7L485.5 313.9L485.7 314.3L485.9 313.6L486.1 313.6L486.2 313.5L486.4 313.9L486.6 313.3L486.8 313.2L487.0 313.0L487.1 313.0L487.3 313.4L487.5 314.0L487.7 312.8L487.9 313.3L488.0 312.9L488.2 312.4L488.4 312.4L488.6 312.2L488.8 311.8M497.1 312.1L497.3 311.9L497.5 312.0L497.6 312.4L497.8 312.5L498.0 312.4L498.2 312.3L498.4 312.6L498.5 313.4L498.7 313.6L498.9 313.3L499.1 313.5L499.3 313.0L499.4 313.2L499.6 313.3L499.8 312.9L500.0 313.0L500.2 313.4L500.3 313.3L500.5 313.1L500.7 313.5L500.9 313.3L501.1 313.7L501.2 313.4L501.4 313.4L501.6 313.5L501.8 313.4L502.0 313.3L502.2 313.3L502.3 313.7L502.5 313.7L502.7 313.8L502.9 312.9L503.1 313.3L503.2 313.3L503.4 313.5L503.6 313.3L503.8 313.2L504.0 313.6L504.1 313.4L504.3 313.0L504.5 313.7L504.7 313.6L504.9 313.1L505.0 313.5L505.2 313.0L505.4 313.5L505.6 313.1L505.8 312.8L506.0 312.9L506.1 312.7L506.3 313.0L506.5 312.9L506.7 312.8L506.9 312.5L507.0 311.5L507.2 312.5L507.4 311.8L507.6 312.2L507.8 312.3L507.9 311.8L508.1 311.3M516.4 311.4L516.6 311.6L516.8 311.8L517.0 311.9L517.2 312.2L517.3 312.5L517.5 311.9L517.7 312.2L517.9 312.0L518.1 312.9L518.3 312.9L518.4 312.8L518.6 312.2L518.8 312.7L519.0 312.6L519.2 312.7L519.3 312.6L519.5 312.8L519.7 312.6L519.9 313.0L520.1 312.8L520.2 312.6L520.4 312.7L520.6 312.5L520.8 312.9L521.0 312.5L521.1 312.7L521.3 312.4L521.5 312.1L521.7 312.8L521.9 312.1L522.1 312.6L522.2 312.4L522.4 311.8L522.6 311.9L522.8 311.9L523.0 311.8L523.1 311.6L523.3 312.0L523.5 311.6L523.7 311.6L523.9 311.2L524.0 311.2L524.2 310.7M537.2 310.5L537.4 310.4L537.6 310.7L537.8 310.8L538.0 311.2L538.1 310.9L538.3 311.5L538.5 311.3L538.7 311.3L538.9 311.3L539.1 311.4L539.2 311.6L539.4 311.6L539.6 311.4L539.8 311.6L540.0 311.3L540.1 311.7L540.3 311.3L540.5 310.7L540.7 311.7L540.9 311.3L541.0 310.9L541.2 311.2L541.4 310.9L541.6 311.7L541.8 311.2L541.9 310.4L542.1 310.9L542.3 310.4L542.5 310.8M551.0 311.6L551.2 311.5L551.4 312.2L551.5 312.0L551.7 312.1L551.9 312.4L552.1 312.2L552.3 312.4L552.4 312.6L552.6 313.2L552.8 313.2L553.0 312.7L553.2 313.4L553.3 312.9L553.5 313.1L553.7 313.3L553.9 313.1L554.1 313.8L554.2 313.2L554.4 312.8L554.6 313.5L554.8 313.1L555.0 313.1L555.2 312.3L555.3 313.5L555.5 313.5L555.7 313.5L555.9 313.5L556.1 313.8L556.2 313.2L556.4 313.5L556.6 313.0L556.8 313.1L557.0 313.5L557.1 313.3L557.3 312.8L557.5 313.3L557.7 313.1L557.9 312.9L558.0 313.2L558.2 312.9L558.4 312.5L558.6 312.6L558.8 313.5L558.9 312.4L559.1 312.9L559.3 312.9L559.5 312.9L559.7 312.2L559.9 312.4L560.0 312.5L560.2 312.5L560.4 312.0L560.6 311.6L560.8 312.1L560.9 312.0L561.1 311.6L561.3 311.0L561.5 311.1L561.7 310.7M572.7 310.6L572.9 311.6L573.1 311.2L573.2 311.4L573.4 311.1L573.6 311.4L573.8 311.4L574.0 311.7L574.1 311.7L574.3 312.0L574.5 312.2L574.7 312.1L574.9 312.1L575.0 312.2L575.2 312.8L575.4 312.8L575.6 313.1L575.8 313.2L576.0 312.8L576.1 313.2L576.3 312.6L576.5 313.8L576.7 313.5L576.9 313.1L577.0 312.9L577.2 313.4L577.4 312.8L577.6 313.1L577.8 313.6L577.9 313.4L578.1 313.3L578.3 313.8L578.5 313.2L578.7 313.6L578.8 313.4L579.0 313.3L579.2 313.7L579.4 313.3L579.6 314.2L579.7 313.4L579.9 314.2L580.1 313.3L580.3 313.8L580.5 313.3L580.7 313.3L580.8 313.7L581.0 313.9L581.2 313.3L581.4 314.0L581.6 313.5L581.7 313.7L581.9 313.8L582.1 313.9L582.3 313.2L582.5 314.2L582.6 313.9L582.8 313.6L583.0 313.4L583.2 313.2L583.4 313.3L583.5 313.8L583.7 313.5L583.9 313.3L584.1 313.4L584.3 314.1L584.5 313.5L584.6 313.4L584.8 313.9L585.0 313.6L585.2 313.5L585.4 313.2L585.5 312.9L585.7 313.0L585.9 313.2L586.1 313.2L586.3 313.3L586.4 313.3L586.6 313.2L586.8 313.1L587.0 312.6L587.2 312.2L587.3 312.6L587.5 312.4L587.7 312.4L587.9 312.4L588.1 312.0L588.3 311.9L588.4 312.0L588.6 311.9L588.8 311.4L589.0 311.4M599.8 311.3L600.0 311.8L600.2 311.6L600.4 312.1L600.5 312.2L600.7 312.9L600.9 312.6L601.1 312.6L601.3 312.5L601.5 312.6L601.6 313.1L601.8 313.1L602.0 313.5L602.2 313.1L602.4 313.6L602.5 313.4L602.7 313.4L602.9 312.8L603.1 313.0L603.3 313.7L603.4 313.9L603.6 313.6L603.8 313.8L604.0 313.4L604.2 313.5L604.3 313.4L604.5 313.9L604.7 313.7L604.9 313.5L605.1 313.5L605.3 313.8L605.4 313.7L605.6 313.4L605.8 314.1L606.0 313.7L606.2 313.6L606.3 314.1L606.5 313.9L606.7 313.6L606.9 313.8L607.1 313.3L607.2 313.4L607.4 312.9L607.6 313.9L607.8 313.0L608.0 313.8L608.1 313.3L608.3 313.2L608.5 313.5L608.7 313.6L608.9 313.7L609.1 314.0L609.2 313.6L609.4 313.7L609.6 313.3L609.8 313.6L610.0 313.4L610.1 313.2L610.3 313.3L610.5 313.3L610.7 313.4L610.9 313.4L611.0 313.1L611.2 313.0L611.4 313.5L611.6 312.7L611.8 313.0L611.9 313.6L612.1 312.3L612.3 312.9L612.5 313.3L612.7 312.6L612.8 313.8L613.0 312.3L613.2 313.4L613.4 313.5L613.6 313.2L613.8 312.9L613.9 313.0L614.1 312.6L614.3 313.1L614.5 312.5L614.7 312.7L614.8 313.1L615.0 312.4L615.2 312.6L615.4 312.7L615.6 312.2L615.7 312.9L615.9 312.7L616.1 312.1L616.3 312.5L616.5 312.2L616.6 312.2L616.8 312.4L617.0 312.1L617.2 312.6L617.4 312.0L617.6 312.5L617.7 312.1L617.9 312.4L618.1 311.9L618.3 311.8L618.5 311.6L618.6 312.1L618.8 312.1L619.0 312.4L619.2 312.1L619.4 311.7L619.5 311.5L619.7 311.6L619.9 311.4L620.1 311.8L620.3 311.5L620.4 310.9L620.6 310.8L620.8 311.3L621.0 310.9L621.2 310.6L621.4 310.9L621.5 310.2L621.7 310.1L621.9 309.8L622.1 309.1L622.3 309.7L622.4 308.7M633.3 307.2L633.5 307.5L633.6 307.5L633.8 308.0L634.0 307.9L634.2 308.3L634.4 307.7L634.6 307.7L634.7 308.5L634.9 307.9L635.1 308.3L635.3 308.4L635.5 308.3L635.6 308.4L635.8 308.9L636.0 307.8L636.2 308.8L636.4 309.2L636.5 308.6L636.7 308.5L636.9 308.8L637.1 309.1L637.3 308.2L637.4 308.6L637.6 308.5L637.8 308.7L638.0 308.5L638.2 308.7L638.4 308.3L638.5 308.4L638.7 308.2L638.9 308.2L639.1 308.3L639.3 308.3L639.4 307.9L639.6 308.7L639.8 308.1L640.0 307.7L640.2 308.4L640.3 307.9L640.5 308.2L640.7 308.0L640.9 308.1L641.1 308.0L641.2 307.7L641.4 307.7L641.6 308.2L641.8 306.8L642.0 307.3L642.2 307.1L642.3 306.4L642.5 306.0M646.3 291.9L646.5 291.9L646.7 291.6L646.9 292.4M651.0 308.9L651.2 309.3L651.4 309.2L651.6 309.0L651.7 309.2L651.9 310.2L652.1 310.2L652.3 310.2L652.5 310.1L652.6 310.4L652.8 310.5L653.0 310.4L653.2 310.4L653.4 311.3L653.5 310.8L653.7 310.6L653.9 310.5L654.1 310.7L654.3 311.2L654.5 311.2L654.6 311.0L654.8 311.1L655.0 311.1L655.2 310.9L655.4 311.6L655.5 311.4L655.7 312.0L655.9 311.1L656.1 311.3L656.3 311.7L656.4 311.4L656.6 311.1L656.8 311.2L657.0 311.6L657.2 311.7L657.3 311.6L657.5 311.9L657.7 311.9L657.9 311.8L658.1 311.7L658.2 311.6L658.4 311.9L658.6 312.0L658.8 311.8L659.0 311.9L659.2 311.7L659.3 311.4L659.5 311.5L659.7 312.1L659.9 312.0L660.1 312.3L660.2 311.8L660.4 312.0L660.6 312.1L660.8 312.0L661.0 311.4L661.1 311.5L661.3 311.5L661.5 311.1L661.7 311.4L661.9 311.5L662.0 310.9L662.2 311.5L662.4 310.6L662.6 310.4L662.8 310.2L663.0 309.7L663.1 309.7M667.5 291.3L667.7 292.0L667.8 291.7L668.0 291.9M672.2 309.2L672.4 308.9L672.5 309.8L672.7 310.2L672.9 310.3L673.1 310.1L673.3 310.9L673.4 310.5L673.6 310.4L673.8 310.6L674.0 310.9L674.2 311.3L674.3 311.4L674.5 311.1L674.7 310.7L674.9 310.9L675.1 310.8L675.3 311.0L675.4 310.5L675.6 311.0L675.8 311.1L676.0 310.8L676.2 310.9L676.3 310.4L676.5 310.1L676.7 310.2L676.9 310.6L677.1 310.4L677.2 309.7L677.4 310.0L677.6 309.2L677.8 309.5L678.0 308.9L678.1 308.3M680.1 303.8L680.3 304.0L680.5 303.8L680.7 303.2L680.9 302.4L681.0 302.7L681.2 303.0L681.4 302.8L681.6 303.4L681.8 302.7L681.9 303.5L682.1 303.4L682.3 304.3M684.5 308.9L684.7 309.0L684.8 310.0L685.0 310.0L685.2 310.3L685.4 310.3L685.6 310.0L685.7 310.6L685.9 310.7L686.1 311.3L686.3 311.3L686.5 311.2L686.6 311.4L686.8 312.1L687.0 311.4L687.2 311.5L687.4 311.8L687.6 311.7L687.7 311.8L687.9 312.2L688.1 312.5L688.3 311.5L688.5 312.1L688.6 312.1L688.8 312.1L689.0 312.1L689.2 312.0L689.4 312.5L689.5 312.0L689.7 312.1L689.9 312.2L690.1 312.2L690.3 312.1L690.4 312.5L690.6 312.2L690.8 312.2L691.0 312.1L691.2 311.8L691.3 311.9L691.5 311.8L691.7 312.1L691.9 311.8L692.1 311.7L692.3 312.1L692.4 312.1L692.6 311.4L692.8 312.4L693.0 311.8L693.2 311.7L693.3 312.0L693.5 311.6L693.7 311.3L693.9 312.0L694.1 310.9L694.2 311.1L694.4 311.2L694.6 310.4L694.8 310.5L695.0 310.4L695.1 310.6M699.3 288.0L699.5 288.3L699.7 288.1L699.9 288.1L700.0 288.2L700.2 288.4L700.4 288.2L700.6 288.7L700.8 288.2L700.9 288.4M709.1 298.0L709.3 298.4L709.4 298.9L709.6 299.4L709.8 298.7L710.0 298.7L710.2 299.6L710.3 300.0L710.5 299.7L710.7 299.5M711.8 302.3L712.0 303.2L712.1 303.5L712.3 302.6L712.5 303.2L712.7 304.1L712.9 303.5L713.1 303.3L713.2 303.6L713.4 303.5L713.6 303.3L713.8 303.0L714.0 302.8L714.1 302.4M719.2 279.5L719.4 278.9L719.6 278.9L719.7 278.6M725.4 306.6L725.5 307.6L725.7 307.3L725.9 307.7L726.1 307.8L726.3 307.7L726.4 308.2L726.6 308.5L726.8 308.2L727.0 308.8L727.2 309.2L727.3 309.2L727.5 308.5L727.7 308.8L727.9 308.7L728.1 309.6L728.2 309.5L728.4 309.6L728.6 309.2L728.8 309.1L729.0 309.5L729.2 309.6L729.3 309.3L729.5 309.7L729.7 309.8L729.9 309.7L730.1 309.3L730.2 308.9L730.4 309.3L730.6 309.3L730.8 309.0L731.0 308.8L731.1 308.5L731.3 308.7L731.5 308.3L731.7 308.2L731.9 307.6L732.0 307.5L732.2 307.5L732.4 306.8L732.6 306.4L732.8 306.4M750.5 298.8L750.7 300.0L750.9 299.7L751.0 299.6L751.2 300.3L751.4 300.7L751.6 299.8L751.8 300.7L751.9 300.0L752.1 300.5L752.3 299.7L752.5 299.1L752.7 299.4L752.8 299.2M753.4 298.1L753.6 297.5L753.8 297.1L753.9 297.0L754.1 296.7L754.3 296.9L754.5 296.3L754.7 297.4M757.2 305.1L757.4 305.4L757.5 305.3L757.7 305.6L757.9 306.1L758.1 306.5L758.3 306.2L758.5 306.3L758.6 307.1L758.8 306.6L759.0 307.4L759.2 307.3L759.4 307.6L759.5 308.0L759.7 307.8L759.9 308.0L760.1 307.6L760.3 307.8L760.4 308.3L760.6 308.7L760.8 308.8L761.0 309.2L761.2 308.7L761.3 308.8L761.5 309.1L761.7 309.0L761.9 309.1L762.1 308.9L762.3 309.6L762.4 309.1L762.6 309.7L762.8 309.2L763.0 310.1L763.2 309.6L763.3 310.3L763.5 309.7L763.7 310.1L763.9 310.7L764.1 310.2L764.2 310.6L764.4 310.6L764.6 310.1L764.8 311.0L765.0 311.2L765.1 310.8L765.3 311.5L765.5 311.2L765.7 311.2L765.9 311.6L766.1 311.5L766.2 312.5L766.4 311.5L766.6 312.3L766.8 312.5L767.0 311.7L767.1 311.9L767.3 312.7L767.5 312.5L767.7 312.9L767.9 313.2L768.0 312.9L768.2 312.8L768.4 312.4L768.6 313.4L768.8 313.1L768.9 313.6L769.1 313.7L769.3 313.3L769.5 314.4L769.7 314.3L769.8 314.3L770.0 313.8L770.2 314.2L770.4 314.3L770.6 314.4L770.8 314.3L770.9 314.9L771.1 314.9L771.3 315.1L771.5 314.9L771.7 315.6" fill="none" stroke="#1e1e1e" stroke-width="5.2" stroke-linejoin="round" stroke-linecap="round"/>
<g fill="none" stroke="#333" stroke-width="0.8"><circle cx="305.0" cy="305.1" r="2.8"/><circle cx="306.6" cy="304.8" r="2.8"/><circle cx="308.3" cy="305.3" r="2.8"/><circle cx="309.9" cy="305.8" r="2.8"/><circle cx="311.5" cy="305.8" r="2.8"/><circle cx="313.1" cy="305.7" r="2.8"/><circle cx="314.8" cy="306.2" r="2.8"/><circle cx="316.4" cy="306.9" r="2.8"/><circle cx="318.0" cy="306.6" r="2.8"/><circle cx="319.7" cy="306.7" r="2.8"/><circle cx="321.3" cy="307.4" r="2.8"/><circle cx="322.9" cy="306.9" r="2.8"/><circle cx="324.5" cy="307.2" r="2.8"/><circle cx="326.2" cy="307.8" r="2.8"/><circle cx="327.8" cy="308.2" r="2.8"/><circle cx="329.2" cy="307.4" r="2.8"/><circle cx="330.5" cy="308.4" r="2.8"/><circle cx="332.1" cy="308.2" r="2.8"/><circle cx="333.8" cy="308.5" r="2.8"/><circle cx="335.4" cy="308.2" r="2.8"/><circle cx="337.0" cy="308.9" r="2.8"/><circle cx="338.6" cy="309.4" r="2.8"/><circle cx="340.1" cy="308.7" r="2.8"/><circle cx="341.7" cy="309.2" r="2.8"/><circle cx="343.2" cy="308.2" r="2.8"/><circle cx="344.8" cy="308.4" r="2.8"/><circle cx="346.2" cy="307.3" r="2.8"/><circle cx="347.3" cy="306.1" r="2.8"/><circle cx="348.0" cy="304.5" r="2.8"/><circle cx="348.6" cy="301.9" r="2.8"/><circle cx="349.0" cy="299.6" r="2.8"/><circle cx="349.3" cy="297.3" r="2.8"/><circle cx="349.7" cy="294.8" r="2.8"/><circle cx="350.0" cy="292.4" r="2.8"/><circle cx="350.2" cy="290.5" r="2.8"/><circle cx="350.6" cy="288.0" r="2.8"/><circle cx="351.1" cy="285.3" r="2.8"/><circle cx="351.7" cy="282.7" r="2.8"/><circle cx="352.6" cy="284.3" r="2.8"/><circle cx="353.3" cy="286.5" r="2.8"/><circle cx="353.8" cy="288.5" r="2.8"/><circle cx="354.7" cy="284.9" r="2.8"/><circle cx="354.9" cy="282.6" r="2.8"/><circle cx="355.1" cy="278.2" r="2.8"/><circle cx="355.3" cy="273.5" r="2.8"/><circle cx="355.5" cy="268.2" r="2.8"/><circle cx="355.6" cy="260.4" r="2.8"/><circle cx="355.8" cy="252.7" r="2.8"/><circle cx="356.0" cy="244.1" r="2.8"/><circle cx="356.2" cy="235.8" r="2.8"/><circle cx="356.4" cy="229.9" r="2.8"/><circle cx="356.5" cy="227.0" r="2.8"/><circle cx="356.9" cy="233.3" r="2.8"/><circle cx="357.1" cy="240.7" r="2.8"/><circle cx="357.3" cy="249.1" r="2.8"/><circle cx="357.5" cy="257.8" r="2.8"/><circle cx="357.6" cy="266.5" r="2.8"/><circle cx="357.8" cy="273.7" r="2.8"/><circle cx="358.0" cy="280.2" r="2.8"/><circle cx="358.2" cy="285.8" r="2.8"/><circle cx="358.4" cy="289.4" r="2.8"/><circle cx="358.5" cy="292.3" r="2.8"/><circle cx="358.7" cy="294.7" r="2.8"/><circle cx="358.9" cy="296.4" r="2.8"/><circle cx="359.3" cy="298.9" r="2.8"/><circle cx="359.6" cy="300.7" r="2.8"/><circle cx="360.2" cy="302.2" r="2.8"/><circle cx="360.9" cy="304.1" r="2.8"/><circle cx="362.2" cy="305.2" r="2.8"/><circle cx="363.8" cy="305.4" r="2.8"/><circle cx="365.4" cy="305.6" r="2.8"/><circle cx="366.5" cy="304.1" r="2.8"/><circle cx="367.4" cy="302.5" r="2.8"/><circle cx="368.1" cy="300.6" r="2.8"/><circle cx="368.8" cy="298.1" r="2.8"/><circle cx="369.6" cy="296.5" r="2.8"/><circle cx="371.0" cy="297.7" r="2.8"/><circle cx="371.7" cy="299.2" r="2.8"/><circle cx="372.1" cy="301.2" r="2.8"/><circle cx="372.8" cy="303.2" r="2.8"/><circle cx="373.2" cy="304.8" r="2.8"/><circle cx="374.1" cy="306.3" r="2.8"/><circle cx="375.5" cy="307.5" r="2.8"/><circle cx="377.2" cy="307.2" r="2.8"/><circle cx="378.8" cy="306.5" r="2.8"/><circle cx="379.5" cy="304.7" r="2.8"/><circle cx="380.1" cy="301.9" r="2.8"/><circle cx="380.2" cy="300.3" r="2.8"/><circle cx="380.4" cy="298.6" r="2.8"/><circle cx="380.6" cy="295.2" r="2.8"/><circle cx="380.8" cy="291.6" r="2.8"/><circle cx="381.0" cy="287.2" r="2.8"/><circle cx="381.1" cy="282.0" r="2.8"/><circle cx="381.3" cy="274.5" r="2.8"/><circle cx="381.5" cy="267.4" r="2.8"/><circle cx="381.7" cy="259.0" r="2.8"/><circle cx="381.9" cy="249.9" r="2.8"/><circle cx="382.1" cy="240.5" r="2.8"/><circle cx="382.2" cy="231.0" r="2.8"/><circle cx="382.4" cy="222.4" r="2.8"/><circle cx="382.6" cy="214.2" r="2.8"/><circle cx="382.8" cy="208.5" r="2.8"/><circle cx="383.0" cy="205.0" r="2.8"/><circle cx="383.5" cy="211.5" r="2.8"/><circle cx="383.7" cy="218.0" r="2.8"/><circle cx="383.9" cy="226.2" r="2.8"/><circle cx="384.0" cy="235.7" r="2.8"/><circle cx="384.2" cy="245.0" r="2.8"/><circle cx="384.4" cy="254.8" r="2.8"/><circle cx="384.6" cy="263.9" r="2.8"/><circle cx="384.8" cy="271.5" r="2.8"/><circle cx="384.9" cy="278.9" r="2.8"/><circle cx="385.1" cy="285.5" r="2.8"/><circle cx="385.3" cy="290.2" r="2.8"/><circle cx="385.5" cy="294.6" r="2.8"/><circle cx="385.7" cy="297.6" r="2.8"/><circle cx="385.9" cy="300.4" r="2.8"/><circle cx="386.0" cy="302.5" r="2.8"/><circle cx="386.2" cy="304.9" r="2.8"/><circle cx="386.8" cy="307.0" r="2.8"/><circle cx="387.3" cy="308.6" r="2.8"/><circle cx="388.2" cy="310.0" r="2.8"/><circle cx="389.6" cy="310.8" r="2.8"/><circle cx="391.1" cy="311.5" r="2.8"/><circle cx="392.7" cy="312.5" r="2.8"/><circle cx="394.4" cy="312.8" r="2.8"/><circle cx="396.0" cy="312.6" r="2.8"/><circle cx="397.6" cy="312.3" r="2.8"/><circle cx="399.2" cy="311.9" r="2.8"/><circle cx="400.9" cy="310.8" r="2.8"/><circle cx="402.5" cy="310.5" r="2.8"/><circle cx="404.1" cy="310.4" r="2.8"/><circle cx="405.7" cy="310.0" r="2.8"/><circle cx="406.8" cy="308.8" r="2.8"/><circle cx="408.1" cy="307.6" r="2.8"/><circle cx="409.4" cy="306.1" r="2.8"/><circle cx="410.5" cy="304.5" r="2.8"/><circle cx="411.2" cy="302.3" r="2.8"/><circle cx="411.5" cy="300.6" r="2.8"/><circle cx="412.1" cy="297.7" r="2.8"/><circle cx="412.4" cy="295.8" r="2.8"/><circle cx="412.6" cy="293.7" r="2.8"/><circle cx="412.8" cy="291.9" r="2.8"/><circle cx="413.0" cy="289.3" r="2.8"/><circle cx="413.2" cy="286.4" r="2.8"/><circle cx="413.3" cy="282.8" r="2.8"/><circle cx="413.5" cy="278.4" r="2.8"/><circle cx="413.7" cy="272.8" r="2.8"/><circle cx="413.9" cy="264.6" r="2.8"/><circle cx="414.1" cy="256.2" r="2.8"/><circle cx="414.2" cy="244.0" r="2.8"/><circle cx="414.4" cy="230.0" r="2.8"/><circle cx="414.6" cy="213.7" r="2.8"/><circle cx="414.8" cy="194.0" r="2.8"/><circle cx="415.0" cy="171.4" r="2.8"/><circle cx="415.2" cy="148.2" r="2.8"/><circle cx="415.3" cy="121.8" r="2.8"/><circle cx="415.5" cy="96.7" r="2.8"/><circle cx="415.7" cy="73.1" r="2.8"/><circle cx="415.9" cy="54.5" r="2.8"/><circle cx="416.1" cy="42.0" r="2.8"/><circle cx="416.2" cy="39.5" r="2.8"/><circle cx="416.4" cy="45.6" r="2.8"/><circle cx="416.6" cy="61.2" r="2.8"/><circle cx="416.8" cy="81.6" r="2.8"/><circle cx="417.0" cy="106.1" r="2.8"/><circle cx="417.1" cy="132.3" r="2.8"/><circle cx="417.3" cy="156.6" r="2.8"/><circle cx="417.5" cy="179.6" r="2.8"/><circle cx="417.7" cy="200.9" r="2.8"/><circle cx="417.9" cy="218.3" r="2.8"/><circle cx="418.0" cy="233.0" r="2.8"/><circle cx="418.2" cy="245.9" r="2.8"/><circle cx="418.4" cy="255.2" r="2.8"/><circle cx="418.6" cy="263.5" r="2.8"/><circle cx="418.8" cy="269.4" r="2.8"/><circle cx="419.0" cy="273.1" r="2.8"/><circle cx="419.1" cy="276.1" r="2.8"/><circle cx="419.3" cy="278.4" r="2.8"/><circle cx="419.7" cy="280.1" r="2.8"/><circle cx="420.8" cy="281.4" r="2.8"/><circle cx="421.1" cy="282.9" r="2.8"/><circle cx="421.5" cy="285.2" r="2.8"/><circle cx="421.8" cy="288.2" r="2.8"/><circle cx="422.0" cy="290.4" r="2.8"/><circle cx="422.4" cy="293.5" r="2.8"/><circle cx="422.6" cy="295.3" r="2.8"/><circle cx="422.9" cy="298.0" r="2.8"/><circle cx="423.5" cy="300.8" r="2.8"/><circle cx="424.0" cy="302.4" r="2.8"/><circle cx="424.7" cy="303.9" r="2.8"/><circle cx="425.8" cy="305.2" r="2.8"/><circle cx="427.5" cy="305.4" r="2.8"/><circle cx="429.1" cy="305.8" r="2.8"/><circle cx="430.0" cy="304.4" r="2.8"/><circle cx="431.1" cy="302.0" r="2.8"/><circle cx="431.4" cy="299.3" r="2.8"/><circle cx="431.6" cy="296.6" r="2.8"/><circle cx="431.8" cy="294.2" r="2.8"/><circle cx="432.0" cy="290.5" r="2.8"/><circle cx="432.2" cy="286.3" r="2.8"/><circle cx="432.3" cy="281.4" r="2.8"/><circle cx="432.5" cy="275.6" r="2.8"/><circle cx="432.7" cy="269.4" r="2.8"/><circle cx="432.9" cy="262.0" r="2.8"/><circle cx="433.1" cy="254.2" r="2.8"/><circle cx="433.2" cy="246.2" r="2.8"/><circle cx="433.4" cy="238.6" r="2.8"/><circle cx="433.6" cy="230.9" r="2.8"/><circle cx="433.8" cy="224.6" r="2.8"/><circle cx="434.0" cy="219.8" r="2.8"/><circle cx="434.1" cy="216.6" r="2.8"/><circle cx="434.7" cy="221.9" r="2.8"/><circle cx="434.9" cy="227.1" r="2.8"/><circle cx="435.0" cy="233.7" r="2.8"/><circle cx="435.2" cy="241.1" r="2.8"/><circle cx="435.4" cy="249.8" r="2.8"/><circle cx="435.6" cy="257.2" r="2.8"/><circle cx="435.8" cy="264.7" r="2.8"/><circle cx="436.0" cy="272.0" r="2.8"/><circle cx="436.1" cy="278.4" r="2.8"/><circle cx="436.3" cy="284.3" r="2.8"/><circle cx="436.5" cy="288.7" r="2.8"/><circle cx="436.7" cy="293.4" r="2.8"/><circle cx="436.9" cy="295.9" r="2.8"/><circle cx="437.0" cy="299.0" r="2.8"/><circle cx="437.2" cy="300.6" r="2.8"/><circle cx="437.4" cy="303.1" r="2.8"/><circle cx="437.8" cy="304.9" r="2.8"/><circle cx="438.1" cy="306.6" r="2.8"/><circle cx="439.2" cy="308.0" r="2.8"/><circle cx="440.1" cy="309.4" r="2.8"/><circle cx="441.7" cy="309.8" r="2.8"/><circle cx="443.2" cy="310.5" r="2.8"/><circle cx="444.8" cy="310.4" r="2.8"/><circle cx="446.4" cy="310.8" r="2.8"/><circle cx="448.1" cy="310.4" r="2.8"/><circle cx="449.3" cy="309.3" r="2.8"/><circle cx="449.9" cy="307.5" r="2.8"/><circle cx="450.4" cy="305.6" r="2.8"/><circle cx="450.8" cy="303.7" r="2.8"/><circle cx="451.1" cy="300.6" r="2.8"/><circle cx="451.3" cy="298.5" r="2.8"/><circle cx="451.5" cy="296.8" r="2.8"/><circle cx="451.7" cy="294.1" r="2.8"/><circle cx="451.9" cy="291.5" r="2.8"/><circle cx="452.1" cy="288.4" r="2.8"/><circle cx="452.2" cy="285.7" r="2.8"/><circle cx="452.4" cy="283.1" r="2.8"/><circle cx="452.6" cy="279.5" r="2.8"/><circle cx="452.8" cy="277.2" r="2.8"/><circle cx="453.0" cy="275.0" r="2.8"/><circle cx="453.1" cy="272.6" r="2.8"/><circle cx="453.5" cy="270.0" r="2.8"/><circle cx="454.0" cy="272.4" r="2.8"/><circle cx="454.4" cy="276.3" r="2.8"/><circle cx="454.6" cy="279.6" r="2.8"/><circle cx="454.8" cy="282.7" r="2.8"/><circle cx="454.9" cy="285.2" r="2.8"/><circle cx="455.1" cy="288.3" r="2.8"/><circle cx="455.3" cy="290.4" r="2.8"/><circle cx="455.5" cy="293.1" r="2.8"/><circle cx="455.7" cy="295.4" r="2.8"/><circle cx="455.8" cy="297.6" r="2.8"/><circle cx="456.2" cy="301.0" r="2.8"/><circle cx="456.8" cy="302.9" r="2.8"/><circle cx="457.7" cy="301.0" r="2.8"/><circle cx="457.8" cy="298.9" r="2.8"/><circle cx="458.0" cy="297.3" r="2.8"/><circle cx="458.2" cy="293.6" r="2.8"/><circle cx="458.4" cy="289.5" r="2.8"/><circle cx="458.6" cy="285.2" r="2.8"/><circle cx="458.7" cy="279.5" r="2.8"/><circle cx="458.9" cy="273.6" r="2.8"/><circle cx="459.1" cy="267.3" r="2.8"/><circle cx="459.3" cy="259.9" r="2.8"/><circle cx="459.5" cy="252.6" r="2.8"/><circle cx="459.6" cy="245.8" r="2.8"/><circle cx="459.8" cy="238.6" r="2.8"/><circle cx="460.0" cy="232.4" r="2.8"/><circle cx="460.2" cy="227.2" r="2.8"/><circle cx="460.4" cy="223.7" r="2.8"/><circle cx="460.9" cy="225.8" r="2.8"/><circle cx="461.1" cy="229.3" r="2.8"/><circle cx="461.3" cy="235.3" r="2.8"/><circle cx="461.5" cy="241.7" r="2.8"/><circle cx="461.6" cy="249.4" r="2.8"/><circle cx="461.8" cy="257.2" r="2.8"/><circle cx="462.0" cy="264.9" r="2.8"/><circle cx="462.2" cy="271.3" r="2.8"/><circle cx="462.4" cy="278.0" r="2.8"/><circle cx="462.5" cy="283.8" r="2.8"/><circle cx="462.7" cy="288.9" r="2.8"/><circle cx="462.9" cy="293.2" r="2.8"/><circle cx="463.1" cy="297.3" r="2.8"/><circle cx="463.3" cy="299.8" r="2.8"/><circle cx="463.4" cy="302.9" r="2.8"/><circle cx="463.6" cy="304.8" r="2.8"/><circle cx="464.0" cy="307.4" r="2.8"/><circle cx="464.4" cy="309.9" r="2.8"/><circle cx="465.4" cy="311.9" r="2.8"/><circle cx="466.9" cy="312.8" r="2.8"/><circle cx="468.5" cy="313.3" r="2.8"/><circle cx="470.1" cy="313.4" r="2.8"/><circle cx="471.8" cy="314.1" r="2.8"/><circle cx="473.4" cy="314.4" r="2.8"/><circle cx="475.0" cy="314.2" r="2.8"/><circle cx="476.7" cy="314.5" r="2.8"/><circle cx="478.3" cy="314.6" r="2.8"/><circle cx="479.9" cy="314.4" r="2.8"/><circle cx="481.5" cy="314.4" r="2.8"/><circle cx="483.2" cy="314.2" r="2.8"/><circle cx="484.8" cy="314.2" r="2.8"/><circle cx="486.2" cy="313.5" r="2.8"/><circle cx="487.9" cy="313.3" r="2.8"/><circle cx="488.8" cy="311.8" r="2.8"/><circle cx="489.5" cy="309.9" r="2.8"/><circle cx="489.9" cy="307.7" r="2.8"/><circle cx="490.2" cy="304.4" r="2.8"/><circle cx="490.4" cy="302.3" r="2.8"/><circle cx="490.6" cy="299.9" r="2.8"/><circle cx="490.8" cy="296.1" r="2.8"/><circle cx="490.9" cy="293.7" r="2.8"/><circle cx="491.1" cy="290.2" r="2.8"/><circle cx="491.3" cy="285.7" r="2.8"/><circle cx="491.5" cy="281.3" r="2.8"/><circle cx="491.7" cy="276.0" r="2.8"/><circle cx="491.8" cy="271.8" r="2.8"/><circle cx="492.0" cy="267.2" r="2.8"/><circle cx="492.2" cy="263.2" r="2.8"/><circle cx="492.4" cy="260.2" r="2.8"/><circle cx="492.6" cy="257.1" r="2.8"/><circle cx="492.9" cy="254.7" r="2.8"/><circle cx="493.3" cy="258.1" r="2.8"/><circle cx="493.5" cy="260.7" r="2.8"/><circle cx="493.7" cy="264.4" r="2.8"/><circle cx="493.8" cy="269.3" r="2.8"/><circle cx="494.0" cy="272.9" r="2.8"/><circle cx="494.2" cy="277.5" r="2.8"/><circle cx="494.4" cy="282.1" r="2.8"/><circle cx="494.6" cy="287.0" r="2.8"/><circle cx="494.7" cy="291.3" r="2.8"/><circle cx="494.9" cy="294.4" r="2.8"/><circle cx="495.1" cy="297.3" r="2.8"/><circle cx="495.3" cy="300.2" r="2.8"/><circle cx="495.5" cy="303.1" r="2.8"/><circle cx="495.8" cy="306.9" r="2.8"/><circle cx="496.2" cy="309.0" r="2.8"/><circle cx="496.5" cy="310.7" r="2.8"/><circle cx="497.6" cy="312.4" r="2.8"/><circle cx="499.1" cy="313.5" r="2.8"/><circle cx="500.7" cy="313.5" r="2.8"/><circle cx="502.3" cy="313.7" r="2.8"/><circle cx="504.0" cy="313.6" r="2.8"/><circle cx="505.6" cy="313.1" r="2.8"/><circle cx="507.0" cy="311.5" r="2.8"/><circle cx="508.5" cy="310.5" r="2.8"/><circle cx="509.0" cy="308.0" r="2.8"/><circle cx="509.4" cy="305.7" r="2.8"/><circle cx="509.8" cy="301.9" r="2.8"/><circle cx="509.9" cy="299.7" r="2.8"/><circle cx="510.1" cy="296.9" r="2.8"/><circle cx="510.3" cy="294.0" r="2.8"/><circle cx="510.5" cy="290.7" r="2.8"/><circle cx="510.7" cy="286.9" r="2.8"/><circle cx="510.8" cy="282.7" r="2.8"/><circle cx="511.0" cy="278.7" r="2.8"/><circle cx="511.2" cy="275.4" r="2.8"/><circle cx="511.4" cy="270.9" r="2.8"/><circle cx="511.6" cy="267.3" r="2.8"/><circle cx="511.7" cy="264.7" r="2.8"/><circle cx="511.9" cy="262.1" r="2.8"/><circle cx="512.1" cy="260.4" r="2.8"/><circle cx="512.8" cy="263.9" r="2.8"/><circle cx="513.0" cy="266.6" r="2.8"/><circle cx="513.2" cy="269.8" r="2.8"/><circle cx="513.4" cy="273.6" r="2.8"/><circle cx="513.5" cy="278.2" r="2.8"/><circle cx="513.7" cy="282.2" r="2.8"/><circle cx="513.9" cy="285.9" r="2.8"/><circle cx="514.1" cy="289.4" r="2.8"/><circle cx="514.3" cy="292.7" r="2.8"/><circle cx="514.5" cy="296.2" r="2.8"/><circle cx="514.6" cy="298.6" r="2.8"/><circle cx="514.8" cy="301.7" r="2.8"/><circle cx="515.0" cy="303.9" r="2.8"/><circle cx="515.2" cy="306.1" r="2.8"/><circle cx="515.5" cy="307.7" r="2.8"/><circle cx="516.1" cy="310.1" r="2.8"/><circle cx="516.6" cy="311.6" r="2.8"/><circle cx="518.1" cy="312.9" r="2.8"/><circle cx="519.7" cy="312.6" r="2.8"/><circle cx="521.3" cy="312.4" r="2.8"/><circle cx="523.0" cy="311.8" r="2.8"/><circle cx="524.2" cy="310.7" r="2.8"/><circle cx="524.9" cy="308.7" r="2.8"/><circle cx="525.3" cy="306.6" r="2.8"/><circle cx="525.5" cy="304.9" r="2.8"/><circle cx="525.7" cy="302.5" r="2.8"/><circle cx="525.8" cy="299.4" r="2.8"/><circle cx="526.0" cy="296.1" r="2.8"/><circle cx="526.2" cy="292.3" r="2.8"/><circle cx="526.4" cy="286.1" r="2.8"/><circle cx="526.6" cy="280.1" r="2.8"/><circle cx="526.8" cy="273.1" r="2.8"/><circle cx="526.9" cy="264.6" r="2.8"/><circle cx="527.1" cy="257.4" r="2.8"/><circle cx="527.3" cy="249.0" r="2.8"/><circle cx="527.5" cy="242.0" r="2.8"/><circle cx="527.7" cy="234.6" r="2.8"/><circle cx="527.8" cy="229.1" r="2.8"/><circle cx="528.0" cy="225.7" r="2.8"/><circle cx="528.6" cy="229.1" r="2.8"/><circle cx="528.7" cy="234.0" r="2.8"/><circle cx="528.9" cy="241.1" r="2.8"/><circle cx="529.1" cy="248.9" r="2.8"/><circle cx="529.3" cy="257.2" r="2.8"/><circle cx="529.5" cy="264.7" r="2.8"/><circle cx="529.6" cy="272.1" r="2.8"/><circle cx="529.8" cy="279.2" r="2.8"/><circle cx="530.0" cy="285.1" r="2.8"/><circle cx="530.2" cy="290.4" r="2.8"/><circle cx="530.4" cy="294.4" r="2.8"/><circle cx="530.6" cy="297.2" r="2.8"/><circle cx="530.7" cy="299.7" r="2.8"/><circle cx="531.1" cy="301.9" r="2.8"/><circle cx="531.6" cy="299.2" r="2.8"/><circle cx="532.0" cy="294.7" r="2.8"/><circle cx="532.2" cy="292.1" r="2.8"/><circle cx="532.4" cy="288.4" r="2.8"/><circle cx="532.5" cy="283.8" r="2.8"/><circle cx="532.7" cy="280.2" r="2.8"/><circle cx="532.9" cy="275.9" r="2.8"/><circle cx="533.1" cy="271.5" r="2.8"/><circle cx="533.3" cy="268.3" r="2.8"/><circle cx="533.4" cy="265.5" r="2.8"/><circle cx="533.6" cy="262.7" r="2.8"/><circle cx="534.2" cy="265.4" r="2.8"/><circle cx="534.3" cy="268.7" r="2.8"/><circle cx="534.5" cy="272.1" r="2.8"/><circle cx="534.7" cy="276.4" r="2.8"/><circle cx="534.9" cy="280.9" r="2.8"/><circle cx="535.1" cy="285.4" r="2.8"/><circle cx="535.3" cy="289.8" r="2.8"/><circle cx="535.4" cy="293.3" r="2.8"/><circle cx="535.6" cy="296.9" r="2.8"/><circle cx="535.8" cy="300.4" r="2.8"/><circle cx="536.0" cy="302.7" r="2.8"/><circle cx="536.2" cy="304.8" r="2.8"/><circle cx="536.5" cy="307.3" r="2.8"/><circle cx="536.9" cy="309.3" r="2.8"/><circle cx="537.8" cy="310.8" r="2.8"/><circle cx="539.2" cy="311.6" r="2.8"/><circle cx="540.9" cy="311.3" r="2.8"/><circle cx="542.3" cy="310.4" r="2.8"/><circle cx="542.9" cy="308.8" r="2.8"/><circle cx="543.6" cy="305.9" r="2.8"/><circle cx="544.1" cy="301.8" r="2.8"/><circle cx="544.5" cy="298.4" r="2.8"/><circle cx="544.8" cy="294.0" r="2.8"/><circle cx="545.0" cy="291.2" r="2.8"/><circle cx="545.2" cy="288.9" r="2.8"/><circle cx="545.4" cy="286.0" r="2.8"/><circle cx="545.6" cy="282.9" r="2.8"/><circle cx="545.7" cy="280.7" r="2.8"/><circle cx="545.9" cy="278.0" r="2.8"/><circle cx="546.1" cy="275.5" r="2.8"/><circle cx="546.5" cy="273.2" r="2.8"/><circle cx="547.2" cy="274.8" r="2.8"/><circle cx="547.4" cy="276.9" r="2.8"/><circle cx="547.6" cy="279.1" r="2.8"/><circle cx="547.7" cy="281.9" r="2.8"/><circle cx="547.9" cy="284.9" r="2.8"/><circle cx="548.1" cy="287.2" r="2.8"/><circle cx="548.3" cy="290.3" r="2.8"/><circle cx="548.5" cy="293.0" r="2.8"/><circle cx="548.6" cy="295.1" r="2.8"/><circle cx="548.8" cy="297.9" r="2.8"/><circle cx="549.0" cy="299.7" r="2.8"/><circle cx="549.2" cy="302.3" r="2.8"/><circle cx="549.5" cy="305.2" r="2.8"/><circle cx="549.9" cy="307.7" r="2.8"/><circle cx="550.3" cy="309.6" r="2.8"/><circle cx="550.8" cy="311.3" r="2.8"/><circle cx="552.3" cy="312.4" r="2.8"/><circle cx="553.7" cy="313.3" r="2.8"/><circle cx="555.2" cy="312.3" r="2.8"/><circle cx="556.1" cy="313.8" r="2.8"/><circle cx="557.7" cy="313.1" r="2.8"/><circle cx="559.3" cy="312.9" r="2.8"/><circle cx="560.6" cy="311.6" r="2.8"/><circle cx="561.8" cy="310.5" r="2.8"/><circle cx="562.4" cy="308.7" r="2.8"/><circle cx="562.7" cy="307.1" r="2.8"/><circle cx="563.1" cy="304.4" r="2.8"/><circle cx="563.5" cy="300.3" r="2.8"/><circle cx="563.7" cy="298.2" r="2.8"/><circle cx="563.8" cy="295.4" r="2.8"/><circle cx="564.0" cy="291.9" r="2.8"/><circle cx="564.2" cy="288.1" r="2.8"/><circle cx="564.4" cy="282.7" r="2.8"/><circle cx="564.6" cy="277.2" r="2.8"/><circle cx="564.7" cy="271.7" r="2.8"/><circle cx="564.9" cy="265.1" r="2.8"/><circle cx="565.1" cy="258.3" r="2.8"/><circle cx="565.3" cy="250.0" r="2.8"/><circle cx="565.5" cy="241.3" r="2.8"/><circle cx="565.6" cy="233.2" r="2.8"/><circle cx="565.8" cy="224.0" r="2.8"/><circle cx="566.0" cy="215.1" r="2.8"/><circle cx="566.2" cy="208.1" r="2.8"/><circle cx="566.4" cy="199.7" r="2.8"/><circle cx="566.5" cy="193.1" r="2.8"/><circle cx="566.7" cy="187.6" r="2.8"/><circle cx="566.9" cy="184.1" r="2.8"/><circle cx="567.1" cy="181.5" r="2.8"/><circle cx="567.6" cy="185.9" r="2.8"/><circle cx="567.8" cy="191.9" r="2.8"/><circle cx="568.0" cy="198.3" r="2.8"/><circle cx="568.2" cy="205.5" r="2.8"/><circle cx="568.4" cy="213.6" r="2.8"/><circle cx="568.5" cy="222.1" r="2.8"/><circle cx="568.7" cy="230.6" r="2.8"/><circle cx="568.9" cy="239.9" r="2.8"/><circle cx="569.1" cy="248.0" r="2.8"/><circle cx="569.3" cy="255.9" r="2.8"/><circle cx="569.4" cy="263.3" r="2.8"/><circle cx="569.6" cy="270.4" r="2.8"/><circle cx="569.8" cy="276.4" r="2.8"/><circle cx="570.0" cy="282.0" r="2.8"/><circle cx="570.2" cy="286.2" r="2.8"/><circle cx="570.3" cy="291.0" r="2.8"/><circle cx="570.5" cy="295.1" r="2.8"/><circle cx="570.7" cy="297.3" r="2.8"/><circle cx="570.9" cy="300.0" r="2.8"/><circle cx="571.1" cy="302.5" r="2.8"/><circle cx="571.2" cy="304.3" r="2.8"/><circle cx="571.6" cy="306.1" r="2.8"/><circle cx="571.8" cy="307.7" r="2.8"/><circle cx="572.3" cy="309.7" r="2.8"/><circle cx="572.9" cy="311.6" r="2.8"/><circle cx="574.5" cy="312.2" r="2.8"/><circle cx="576.1" cy="313.2" r="2.8"/><circle cx="577.8" cy="313.6" r="2.8"/><circle cx="579.4" cy="313.3" r="2.8"/><circle cx="581.0" cy="313.9" r="2.8"/><circle cx="582.6" cy="313.9" r="2.8"/><circle cx="584.3" cy="314.1" r="2.8"/><circle cx="585.5" cy="312.9" r="2.8"/><circle cx="587.2" cy="312.2" r="2.8"/><circle cx="588.8" cy="311.4" r="2.8"/><circle cx="589.7" cy="310.0" r="2.8"/><circle cx="590.1" cy="308.2" r="2.8"/><circle cx="590.4" cy="306.0" r="2.8"/><circle cx="590.6" cy="303.8" r="2.8"/><circle cx="591.0" cy="300.3" r="2.8"/><circle cx="591.1" cy="297.8" r="2.8"/><circle cx="591.3" cy="295.1" r="2.8"/><circle cx="591.5" cy="292.2" r="2.8"/><circle cx="591.7" cy="288.6" r="2.8"/><circle cx="591.9" cy="284.7" r="2.8"/><circle cx="592.0" cy="281.0" r="2.8"/><circle cx="592.2" cy="275.9" r="2.8"/><circle cx="592.4" cy="271.0" r="2.8"/><circle cx="592.6" cy="266.6" r="2.8"/><circle cx="592.8" cy="261.4" r="2.8"/><circle cx="593.0" cy="256.4" r="2.8"/><circle cx="593.1" cy="250.6" r="2.8"/><circle cx="593.3" cy="246.4" r="2.8"/><circle cx="593.5" cy="241.6" r="2.8"/><circle cx="593.7" cy="238.0" r="2.8"/><circle cx="593.9" cy="233.7" r="2.8"/><circle cx="594.0" cy="231.7" r="2.8"/><circle cx="594.2" cy="229.9" r="2.8"/><circle cx="594.8" cy="232.0" r="2.8"/><circle cx="594.9" cy="234.0" r="2.8"/><circle cx="595.1" cy="237.3" r="2.8"/><circle cx="595.3" cy="241.8" r="2.8"/><circle cx="595.5" cy="246.4" r="2.8"/><circle cx="595.7" cy="251.3" r="2.8"/><circle cx="595.8" cy="255.9" r="2.8"/><circle cx="596.0" cy="261.3" r="2.8"/><circle cx="596.2" cy="266.7" r="2.8"/><circle cx="596.4" cy="271.2" r="2.8"/><circle cx="596.6" cy="276.0" r="2.8"/><circle cx="596.8" cy="281.0" r="2.8"/><circle cx="596.9" cy="285.4" r="2.8"/><circle cx="597.1" cy="288.4" r="2.8"/><circle cx="597.3" cy="291.4" r="2.8"/><circle cx="597.5" cy="294.9" r="2.8"/><circle cx="597.7" cy="297.7" r="2.8"/><circle cx="597.8" cy="300.4" r="2.8"/><circle cx="598.0" cy="302.7" r="2.8"/><circle cx="598.4" cy="305.5" r="2.8"/><circle cx="598.7" cy="307.8" r="2.8"/><circle cx="599.1" cy="309.5" r="2.8"/><circle cx="599.3" cy="311.1" r="2.8"/><circle cx="600.5" cy="312.2" r="2.8"/><circle cx="602.0" cy="313.5" r="2.8"/><circle cx="603.6" cy="313.6" r="2.8"/><circle cx="605.3" cy="313.8" r="2.8"/><circle cx="606.9" cy="313.8" r="2.8"/><circle cx="608.5" cy="313.5" r="2.8"/><circle cx="610.1" cy="313.2" r="2.8"/><circle cx="611.8" cy="313.0" r="2.8"/><circle cx="613.4" cy="313.5" r="2.8"/><circle cx="615.0" cy="312.4" r="2.8"/><circle cx="616.6" cy="312.2" r="2.8"/><circle cx="618.3" cy="311.8" r="2.8"/><circle cx="619.9" cy="311.4" r="2.8"/><circle cx="621.5" cy="310.2" r="2.8"/><circle cx="622.4" cy="308.7" r="2.8"/><circle cx="623.2" cy="307.1" r="2.8"/><circle cx="623.5" cy="305.0" r="2.8"/><circle cx="623.9" cy="303.0" r="2.8"/><circle cx="624.2" cy="300.7" r="2.8"/><circle cx="624.4" cy="298.9" r="2.8"/><circle cx="624.8" cy="295.0" r="2.8"/><circle cx="625.0" cy="292.7" r="2.8"/><circle cx="625.1" cy="290.0" r="2.8"/><circle cx="625.3" cy="287.1" r="2.8"/><circle cx="625.5" cy="284.5" r="2.8"/><circle cx="625.7" cy="281.4" r="2.8"/><circle cx="625.9" cy="277.5" r="2.8"/><circle cx="626.1" cy="274.8" r="2.8"/><circle cx="626.2" cy="271.3" r="2.8"/><circle cx="626.4" cy="268.0" r="2.8"/><circle cx="626.6" cy="264.6" r="2.8"/><circle cx="626.8" cy="260.9" r="2.8"/><circle cx="627.0" cy="258.0" r="2.8"/><circle cx="627.1" cy="256.4" r="2.8"/><circle cx="627.3" cy="253.7" r="2.8"/><circle cx="627.5" cy="251.6" r="2.8"/><circle cx="628.0" cy="250.0" r="2.8"/><circle cx="628.4" cy="252.2" r="2.8"/><circle cx="628.6" cy="254.7" r="2.8"/><circle cx="628.8" cy="256.9" r="2.8"/><circle cx="628.9" cy="259.6" r="2.8"/><circle cx="629.1" cy="262.7" r="2.8"/><circle cx="629.3" cy="266.0" r="2.8"/><circle cx="629.5" cy="268.5" r="2.8"/><circle cx="629.7" cy="272.3" r="2.8"/><circle cx="629.9" cy="275.5" r="2.8"/><circle cx="630.0" cy="278.6" r="2.8"/><circle cx="630.2" cy="281.9" r="2.8"/><circle cx="630.4" cy="285.0" r="2.8"/><circle cx="630.6" cy="287.8" r="2.8"/><circle cx="630.8" cy="290.0" r="2.8"/><circle cx="630.9" cy="292.7" r="2.8"/><circle cx="631.1" cy="295.6" r="2.8"/><circle cx="631.5" cy="298.1" r="2.8"/><circle cx="631.7" cy="300.2" r="2.8"/><circle cx="632.0" cy="302.7" r="2.8"/><circle cx="632.4" cy="304.7" r="2.8"/><circle cx="633.1" cy="306.6" r="2.8"/><circle cx="634.2" cy="308.3" r="2.8"/><circle cx="635.8" cy="308.9" r="2.8"/><circle cx="637.3" cy="308.2" r="2.8"/><circle cx="638.9" cy="308.2" r="2.8"/><circle cx="640.5" cy="308.2" r="2.8"/><circle cx="641.8" cy="306.8" r="2.8"/><circle cx="642.9" cy="305.5" r="2.8"/><circle cx="643.6" cy="303.5" r="2.8"/><circle cx="644.1" cy="301.1" r="2.8"/><circle cx="644.5" cy="299.3" r="2.8"/><circle cx="644.9" cy="297.6" r="2.8"/><circle cx="645.2" cy="295.3" r="2.8"/><circle cx="645.6" cy="293.7" r="2.8"/><circle cx="646.1" cy="292.0" r="2.8"/><circle cx="647.2" cy="293.6" r="2.8"/><circle cx="648.1" cy="296.8" r="2.8"/><circle cx="648.5" cy="299.4" r="2.8"/><circle cx="648.8" cy="301.4" r="2.8"/><circle cx="649.6" cy="304.3" r="2.8"/><circle cx="649.9" cy="305.9" r="2.8"/><circle cx="650.5" cy="307.7" r="2.8"/><circle cx="651.2" cy="309.3" r="2.8"/><circle cx="652.6" cy="310.4" r="2.8"/><circle cx="654.3" cy="311.2" r="2.8"/><circle cx="655.7" cy="312.0" r="2.8"/><circle cx="657.3" cy="311.6" r="2.8"/><circle cx="659.0" cy="311.9" r="2.8"/><circle cx="660.6" cy="312.1" r="2.8"/><circle cx="662.0" cy="310.9" r="2.8"/><circle cx="663.3" cy="309.3" r="2.8"/><circle cx="664.0" cy="307.2" r="2.8"/><circle cx="664.6" cy="304.9" r="2.8"/><circle cx="665.1" cy="303.0" r="2.8"/><circle cx="665.5" cy="300.8" r="2.8"/><circle cx="665.8" cy="298.6" r="2.8"/><circle cx="666.2" cy="296.8" r="2.8"/><circle cx="666.6" cy="294.8" r="2.8"/><circle cx="666.9" cy="293.1" r="2.8"/><circle cx="667.5" cy="291.3" r="2.8"/><circle cx="668.2" cy="292.8" r="2.8"/><circle cx="668.7" cy="294.5" r="2.8"/><circle cx="669.1" cy="296.0" r="2.8"/><circle cx="669.5" cy="297.9" r="2.8"/><circle cx="669.8" cy="300.1" r="2.8"/><circle cx="670.2" cy="302.3" r="2.8"/><circle cx="670.5" cy="303.8" r="2.8"/><circle cx="670.9" cy="305.8" r="2.8"/><circle cx="671.6" cy="307.7" r="2.8"/><circle cx="672.5" cy="309.8" r="2.8"/><circle cx="674.0" cy="310.9" r="2.8"/><circle cx="675.6" cy="311.0" r="2.8"/><circle cx="677.2" cy="309.7" r="2.8"/><circle cx="678.1" cy="308.3" r="2.8"/><circle cx="678.9" cy="306.5" r="2.8"/><circle cx="680.0" cy="304.2" r="2.8"/><circle cx="680.9" cy="302.4" r="2.8"/><circle cx="682.3" cy="304.3" r="2.8"/><circle cx="683.2" cy="305.6" r="2.8"/><circle cx="683.8" cy="307.7" r="2.8"/><circle cx="684.7" cy="309.0" r="2.8"/><circle cx="685.7" cy="310.6" r="2.8"/><circle cx="686.8" cy="312.1" r="2.8"/><circle cx="688.5" cy="312.1" r="2.8"/><circle cx="690.1" cy="312.2" r="2.8"/><circle cx="691.7" cy="312.1" r="2.8"/><circle cx="693.3" cy="312.0" r="2.8"/><circle cx="694.6" cy="310.4" r="2.8"/><circle cx="695.5" cy="309.1" r="2.8"/><circle cx="696.1" cy="307.0" r="2.8"/><circle cx="696.6" cy="305.0" r="2.8"/><circle cx="697.0" cy="303.0" r="2.8"/><circle cx="697.3" cy="300.3" r="2.8"/><circle cx="697.5" cy="298.6" r="2.8"/><circle cx="697.9" cy="296.1" r="2.8"/><circle cx="698.0" cy="294.5" r="2.8"/><circle cx="698.4" cy="291.7" r="2.8"/><circle cx="698.9" cy="288.9" r="2.8"/><circle cx="700.4" cy="288.2" r="2.8"/><circle cx="701.5" cy="286.7" r="2.8"/><circle cx="701.8" cy="284.7" r="2.8"/><circle cx="702.2" cy="282.7" r="2.8"/><circle cx="702.6" cy="280.2" r="2.8"/><circle cx="702.9" cy="276.9" r="2.8"/><circle cx="703.3" cy="274.4" r="2.8"/><circle cx="703.6" cy="272.1" r="2.8"/><circle cx="704.4" cy="270.3" r="2.8"/><circle cx="705.1" cy="272.4" r="2.8"/><circle cx="705.5" cy="274.6" r="2.8"/><circle cx="705.6" cy="276.3" r="2.8"/><circle cx="706.0" cy="279.0" r="2.8"/><circle cx="706.4" cy="282.3" r="2.8"/><circle cx="706.5" cy="284.4" r="2.8"/><circle cx="706.9" cy="287.1" r="2.8"/><circle cx="707.3" cy="289.8" r="2.8"/><circle cx="707.4" cy="291.8" r="2.8"/><circle cx="707.8" cy="293.5" r="2.8"/><circle cx="708.2" cy="295.5" r="2.8"/><circle cx="708.7" cy="297.7" r="2.8"/><circle cx="709.6" cy="299.4" r="2.8"/><circle cx="710.9" cy="300.9" r="2.8"/><circle cx="711.8" cy="302.3" r="2.8"/><circle cx="712.7" cy="304.1" r="2.8"/><circle cx="714.0" cy="302.8" r="2.8"/><circle cx="714.7" cy="301.1" r="2.8"/><circle cx="715.2" cy="299.6" r="2.8"/><circle cx="715.8" cy="297.5" r="2.8"/><circle cx="716.1" cy="295.9" r="2.8"/><circle cx="716.5" cy="294.2" r="2.8"/><circle cx="716.9" cy="291.5" r="2.8"/><circle cx="717.2" cy="289.5" r="2.8"/><circle cx="717.6" cy="286.6" r="2.8"/><circle cx="717.9" cy="284.9" r="2.8"/><circle cx="718.3" cy="283.0" r="2.8"/><circle cx="718.7" cy="281.3" r="2.8"/><circle cx="719.2" cy="279.5" r="2.8"/><circle cx="720.3" cy="280.7" r="2.8"/><circle cx="720.7" cy="282.5" r="2.8"/><circle cx="721.0" cy="284.2" r="2.8"/><circle cx="721.4" cy="286.6" r="2.8"/><circle cx="721.7" cy="289.4" r="2.8"/><circle cx="722.1" cy="291.8" r="2.8"/><circle cx="722.5" cy="294.2" r="2.8"/><circle cx="722.8" cy="297.2" r="2.8"/><circle cx="723.4" cy="299.1" r="2.8"/><circle cx="723.7" cy="301.4" r="2.8"/><circle cx="724.1" cy="303.2" r="2.8"/><circle cx="724.6" cy="304.8" r="2.8"/><circle cx="725.4" cy="306.6" r="2.8"/><circle cx="726.4" cy="308.2" r="2.8"/><circle cx="728.1" cy="309.6" r="2.8"/><circle cx="729.7" cy="309.8" r="2.8"/><circle cx="731.0" cy="308.8" r="2.8"/><circle cx="732.0" cy="307.5" r="2.8"/><circle cx="733.1" cy="305.7" r="2.8"/><circle cx="733.7" cy="304.1" r="2.8"/><circle cx="734.2" cy="302.5" r="2.8"/><circle cx="734.6" cy="300.4" r="2.8"/><circle cx="734.9" cy="298.0" r="2.8"/><circle cx="735.3" cy="295.3" r="2.8"/><circle cx="735.7" cy="292.1" r="2.8"/><circle cx="735.8" cy="290.3" r="2.8"/><circle cx="736.0" cy="288.2" r="2.8"/><circle cx="736.2" cy="285.8" r="2.8"/><circle cx="736.4" cy="283.6" r="2.8"/><circle cx="736.6" cy="281.0" r="2.8"/><circle cx="736.7" cy="279.0" r="2.8"/><circle cx="736.9" cy="275.3" r="2.8"/><circle cx="737.1" cy="273.0" r="2.8"/><circle cx="737.3" cy="270.7" r="2.8"/><circle cx="737.5" cy="266.8" r="2.8"/><circle cx="737.7" cy="263.4" r="2.8"/><circle cx="737.8" cy="260.4" r="2.8"/><circle cx="738.0" cy="257.5" r="2.8"/><circle cx="738.2" cy="253.7" r="2.8"/><circle cx="738.4" cy="250.6" r="2.8"/><circle cx="738.6" cy="247.1" r="2.8"/><circle cx="738.7" cy="243.7" r="2.8"/><circle cx="738.9" cy="241.7" r="2.8"/><circle cx="739.1" cy="237.8" r="2.8"/><circle cx="739.3" cy="234.9" r="2.8"/><circle cx="739.5" cy="232.4" r="2.8"/><circle cx="739.6" cy="230.4" r="2.8"/><circle cx="739.8" cy="228.5" r="2.8"/><circle cx="740.2" cy="225.7" r="2.8"/><circle cx="741.3" cy="226.8" r="2.8"/><circle cx="741.6" cy="230.2" r="2.8"/><circle cx="742.0" cy="234.2" r="2.8"/><circle cx="742.2" cy="236.4" r="2.8"/><circle cx="742.4" cy="238.3" r="2.8"/><circle cx="742.5" cy="240.7" r="2.8"/><circle cx="742.7" cy="242.9" r="2.8"/><circle cx="742.9" cy="245.6" r="2.8"/><circle cx="743.3" cy="249.4" r="2.8"/><circle cx="743.6" cy="253.0" r="2.8"/><circle cx="743.8" cy="255.1" r="2.8"/><circle cx="744.2" cy="257.9" r="2.8"/><circle cx="744.5" cy="261.1" r="2.8"/><circle cx="744.9" cy="263.3" r="2.8"/><circle cx="745.2" cy="265.0" r="2.8"/><circle cx="745.4" cy="267.0" r="2.8"/><circle cx="745.8" cy="269.4" r="2.8"/><circle cx="746.0" cy="271.1" r="2.8"/><circle cx="746.3" cy="274.4" r="2.8"/><circle cx="746.7" cy="277.7" r="2.8"/><circle cx="747.1" cy="281.2" r="2.8"/><circle cx="747.4" cy="284.6" r="2.8"/><circle cx="747.6" cy="286.3" r="2.8"/><circle cx="748.0" cy="289.0" r="2.8"/><circle cx="748.3" cy="290.6" r="2.8"/><circle cx="748.5" cy="292.7" r="2.8"/><circle cx="748.9" cy="294.4" r="2.8"/><circle cx="749.4" cy="296.4" r="2.8"/><circle cx="750.1" cy="298.0" r="2.8"/><circle cx="750.7" cy="300.0" r="2.8"/><circle cx="752.3" cy="299.7" r="2.8"/><circle cx="753.4" cy="298.1" r="2.8"/><circle cx="754.5" cy="296.3" r="2.8"/><circle cx="755.0" cy="299.0" r="2.8"/><circle cx="755.9" cy="301.2" r="2.8"/><circle cx="756.3" cy="303.1" r="2.8"/><circle cx="757.0" cy="304.9" r="2.8"/><circle cx="758.1" cy="306.5" r="2.8"/><circle cx="759.4" cy="307.6" r="2.8"/><circle cx="760.6" cy="308.7" r="2.8"/><circle cx="762.3" cy="309.6" r="2.8"/><circle cx="763.9" cy="310.7" r="2.8"/><circle cx="765.3" cy="311.5" r="2.8"/><circle cx="766.8" cy="312.5" r="2.8"/><circle cx="768.4" cy="312.4" r="2.8"/><circle cx="769.5" cy="314.4" r="2.8"/><circle cx="771.1" cy="314.9" r="2.8"/></g>
<path d="M305.0 304.7L305.2 304.7L305.4 304.8L305.5 304.8L305.7 304.8L305.9 304.8L306.1 304.9L306.3 304.9L306.4 304.9L306.6 304.9L306.8 305.0L307.0 305.0L307.2 305.0L307.4 305.0L307.5 305.1L307.7 305.1L307.9 305.1L308.1 305.1L308.3 305.2L308.4 305.2L308.6 305.2L308.8 305.2L309.0 305.3L309.2 305.3L309.3 305.3L309.5 305.3L309.7 305.4L309.9 305.4L310.1 305.4L310.2 305.4L310.4 305.5L310.6 305.5L310.8 305.5L311.0 305.6L311.1 305.6L311.3 305.6L311.5 305.6L311.7 305.7L311.9 305.7L312.1 305.7L312.2 305.7L312.4 305.8L312.6 305.8L312.8 305.8L313.0 305.8L313.1 305.9L313.3 305.9L313.5 305.9L313.7 305.9L313.9 306.0L314.0 306.0L314.2 306.0L314.4 306.0L314.6 306.1L314.8 306.1L314.9 306.1L315.1 306.1L315.3 306.2L315.5 306.2L315.7 306.2L315.9 306.2L316.0 306.3L316.2 306.3L316.4 306.3L316.6 306.3L316.8 306.4L316.9 306.4L317.1 306.4L317.3 306.4L317.5 306.5L317.7 306.5L317.8 306.5L318.0 306.5L318.2 306.6L318.4 306.6L318.6 306.6L318.7 306.6L318.9 306.7L319.1 306.7L319.3 306.7L319.5 306.7L319.7 306.8L319.8 306.8L320.0 306.8L320.2 306.8L320.4 306.9L320.6 306.9L320.7 306.9L320.9 306.9L321.1 307.0L321.3 307.0L321.5 307.0L321.6 307.0L321.8 307.0L322.0 307.1L322.2 307.1L322.4 307.1L322.5 307.1L322.7 307.1L322.9 307.2L323.1 307.2L323.3 307.2L323.4 307.2L323.6 307.2L323.8 307.3L324.0 307.3L324.2 307.3L324.4 307.3L324.5 307.3L324.7 307.4L324.9 307.4L325.1 307.4L325.3 307.4L325.4 307.5L325.6 307.5L325.8 307.5L326.0 307.5L326.2 307.5L326.3 307.6L326.5 307.6L326.7 307.6L326.9 307.6L327.1 307.6L327.2 307.7L327.4 307.7L327.6 307.7L327.8 307.7L328.0 307.7L328.2 307.8L328.3 307.8L328.5 307.8L328.7 307.8L328.9 307.8L329.1 307.9L329.2 307.9L329.4 307.9L329.6 307.9L329.8 307.9L330.0 308.0L330.1 308.0L330.3 308.0L330.5 308.0L330.7 308.0L330.9 308.1L331.0 308.1L331.2 308.1L331.4 308.1L331.6 308.1L331.8 308.2L332.0 308.2L332.1 308.2L332.3 308.2L332.5 308.2L332.7 308.3L332.9 308.3L333.0 308.3L333.2 308.3L333.4 308.3L333.6 308.4L333.8 308.4L333.9 308.4L334.1 308.4L334.3 308.4L334.5 308.5L334.7 308.5L334.8 308.5L335.0 308.5L335.2 308.5L335.4 308.6L335.6 308.6L335.7 308.6L335.9 308.6L336.1 308.6L336.3 308.7L336.5 308.7L336.7 308.7L336.8 308.7L337.0 308.7L337.2 308.7L337.4 308.8L337.6 308.8L337.7 308.8L337.9 308.8L338.1 308.8L338.3 308.9L338.5 308.9L338.6 308.9L338.8 308.9L339.0 308.9L339.2 308.9L339.4 309.0L339.5 309.0L339.7 309.0L339.9 309.0L340.1 309.0L340.3 309.0L340.5 308.9L340.6 308.9L340.8 308.9L341.0 308.8L341.2 308.8L341.4 308.8L341.5 308.8L341.7 308.7L341.9 308.7L342.1 308.7L342.3 308.6L342.4 308.6L342.6 308.6L342.8 308.5L343.0 308.5L343.2 308.5L343.3 308.4L343.5 308.4L343.7 308.4L343.9 308.3L344.1 308.3L344.2 308.2L344.4 308.2L344.6 308.2L344.8 308.1L345.0 308.1L345.2 308.0L345.3 308.0L345.5 307.9L345.7 307.9L345.9 307.8L346.1 307.7L346.2 307.6L346.4 307.5L346.6 307.3L346.8 307.2L347.0 307.0L347.1 306.8L347.3 306.5L347.5 306.2L347.7 305.8L347.9 305.4L348.0 304.9L348.2 304.3L348.4 303.7L348.6 303.0L348.8 302.2L349.0 301.3L349.1 300.4L349.3 299.4L349.5 298.3L349.7 297.2L349.9 296.0L350.0 294.9L350.2 293.7L350.4 292.6L350.6 291.5L350.8 290.5L350.9 289.6L351.1 288.8L351.3 288.1L351.5 287.6L351.7 287.2L351.8 287.0L352.0 286.9L352.2 286.9L352.4 287.1L352.6 287.4L352.8 287.8L352.9 288.2L353.1 288.7L353.3 289.2L353.5 289.6L353.7 290.0L353.8 290.2L354.0 290.1L354.2 289.7L354.4 288.9L354.6 287.5L354.7 285.3L354.9 282.2L355.1 278.1L355.3 272.7L355.5 266.1L355.6 258.3L355.8 249.5L356.0 240.4L356.2 231.9L356.4 225.3L356.5 222.1L356.7 223.2L356.9 228.3L357.1 236.3L357.3 245.5L357.5 255.0L357.6 263.8L357.8 271.5L358.0 278.2L358.2 283.6L358.4 287.9L358.5 291.3L358.7 294.0L358.9 296.0L359.1 297.5L359.3 298.7L359.4 299.7L359.6 300.4L359.8 301.0L360.0 301.5L360.2 302.0L360.3 302.4L360.5 302.7L360.7 303.0L360.9 303.3L361.1 303.6L361.3 303.8L361.4 304.0L361.6 304.2L361.8 304.4L362.0 304.5L362.2 304.7L362.3 304.8L362.5 304.9L362.7 305.0L362.9 305.1L363.1 305.2L363.2 305.3L363.4 305.4L363.6 305.5L363.8 305.5L364.0 305.6L364.1 305.6L364.3 305.7L364.5 305.7L364.7 305.7L364.9 305.7L365.1 305.7L365.2 305.7L365.4 305.6L365.6 305.5L365.8 305.4L366.0 305.3L366.1 305.2L366.3 305.0L366.5 304.8L366.7 304.6L366.9 304.3L367.0 304.0L367.2 303.7L367.4 303.3L367.6 302.9L367.8 302.5L367.9 302.0L368.1 301.5L368.3 301.0L368.5 300.5L368.7 300.0L368.8 299.5L369.0 299.1L369.2 298.7L369.4 298.3L369.6 298.0L369.8 297.7L369.9 297.6L370.1 297.5L370.3 297.5L370.5 297.7L370.7 297.9L370.8 298.2L371.0 298.6L371.2 299.0L371.4 299.5L371.6 300.0L371.7 300.6L371.9 301.1L372.1 301.7L372.3 302.2L372.5 302.8L372.6 303.3L372.8 303.8L373.0 304.2L373.2 304.7L373.4 305.0L373.6 305.4L373.7 305.7L373.9 306.0L374.1 306.3L374.3 306.5L374.5 306.7L374.6 306.9L374.8 307.0L375.0 307.1L375.2 307.2L375.4 307.3L375.5 307.4L375.7 307.4L375.9 307.5L376.1 307.5L376.3 307.5L376.4 307.5L376.6 307.5L376.8 307.5L377.0 307.5L377.2 307.4L377.4 307.4L377.5 307.3L377.7 307.3L377.9 307.2L378.1 307.1L378.3 307.0L378.4 306.9L378.6 306.8L378.8 306.6L379.0 306.4L379.2 306.1L379.3 305.7L379.5 305.2L379.7 304.6L379.9 303.7L380.1 302.5L380.2 300.9L380.4 298.8L380.6 296.1L380.8 292.7L381.0 288.5L381.1 283.3L381.3 277.2L381.5 270.2L381.7 262.3L381.9 253.8L382.1 244.9L382.2 236.0L382.4 227.6L382.6 220.3L382.8 214.6L383.0 211.2L383.1 210.5L383.3 212.5L383.5 216.9L383.7 223.5L383.9 231.4L384.0 240.2L384.2 249.2L384.4 258.1L384.6 266.4L384.8 274.1L384.9 280.8L385.1 286.6L385.3 291.5L385.5 295.5L385.7 298.7L385.9 301.2L386.0 303.1L386.2 304.6L386.4 305.8L386.6 306.7L386.8 307.3L386.9 307.9L387.1 308.3L387.3 308.7L387.5 309.0L387.7 309.2L387.8 309.4L388.0 309.6L388.2 309.8L388.4 310.0L388.6 310.2L388.7 310.3L388.9 310.4L389.1 310.6L389.3 310.7L389.5 310.8L389.6 310.9L389.8 311.0L390.0 311.1L390.2 311.2L390.4 311.3L390.6 311.4L390.7 311.5L390.9 311.6L391.1 311.7L391.3 311.7L391.5 311.8L391.6 311.9L391.8 312.0L392.0 312.0L392.2 312.1L392.4 312.2L392.5 312.2L392.7 312.3L392.9 312.3L393.1 312.4L393.3 312.5L393.4 312.5L393.6 312.6L393.8 312.6L394.0 312.7L394.2 312.7L394.4 312.6L394.5 312.6L394.7 312.6L394.9 312.6L395.1 312.5L395.3 312.5L395.4 312.5L395.6 312.5L395.8 312.4L396.0 312.4L396.2 312.4L396.3 312.3L396.5 312.3L396.7 312.3L396.9 312.2L397.1 312.2L397.2 312.2L397.4 312.1L397.6 312.1L397.8 312.1L398.0 312.0L398.2 312.0L398.3 312.0L398.5 311.9L398.7 311.9L398.9 311.9L399.1 311.8L399.2 311.8L399.4 311.7L399.6 311.7L399.8 311.6L400.0 311.6L400.1 311.6L400.3 311.5L400.5 311.5L400.7 311.4L400.9 311.4L401.0 311.3L401.2 311.3L401.4 311.2L401.6 311.2L401.8 311.1L401.9 311.1L402.1 311.0L402.3 311.0L402.5 310.9L402.7 310.8L402.9 310.8L403.0 310.7L403.2 310.6L403.4 310.6L403.6 310.5L403.8 310.4L403.9 310.4L404.1 310.3L404.3 310.2L404.5 310.2L404.7 310.1L404.8 310.0L405.0 309.9L405.2 309.8L405.4 309.7L405.6 309.6L405.7 309.5L405.9 309.4L406.1 309.3L406.3 309.2L406.5 309.1L406.7 309.0L406.8 308.9L407.0 308.8L407.2 308.6L407.4 308.5L407.6 308.3L407.7 308.2L407.9 308.0L408.1 307.8L408.3 307.7L408.5 307.5L408.6 307.3L408.8 307.0L409.0 306.8L409.2 306.6L409.4 306.3L409.5 306.0L409.7 305.7L409.9 305.4L410.1 305.1L410.3 304.7L410.5 304.3L410.6 303.8L410.8 303.3L411.0 302.8L411.2 302.2L411.4 301.6L411.5 300.9L411.7 300.1L411.9 299.2L412.1 298.2L412.3 297.1L412.4 295.8L412.6 294.3L412.8 292.4L413.0 290.2L413.2 287.4L413.3 283.8L413.5 279.4L413.7 273.7L413.9 266.5L414.1 257.4L414.2 246.2L414.4 232.5L414.6 216.3L414.8 197.3L415.0 175.9L415.2 152.3L415.3 127.5L415.5 102.8L415.7 80.0L415.9 61.5L416.1 50.0L416.2 47.2L416.4 53.7L416.6 68.3L416.8 88.8L417.0 112.6L417.1 137.4L417.3 161.6L417.5 184.2L417.7 204.4L417.9 222.1L418.0 237.0L418.2 249.3L418.4 259.3L418.6 267.2L418.8 273.3L419.0 278.1L419.1 281.6L419.3 284.4L419.5 286.4L419.7 287.9L419.9 289.1L420.0 290.0L420.2 290.7L420.4 291.3L420.6 291.9L420.8 292.5L420.9 293.1L421.1 293.8L421.3 294.6L421.5 295.4L421.7 296.2L421.8 297.1L422.0 297.9L422.2 298.7L422.4 299.4L422.6 300.1L422.7 300.7L422.9 301.3L423.1 301.8L423.3 302.3L423.5 302.7L423.7 303.0L423.8 303.3L424.0 303.6L424.2 303.8L424.4 304.0L424.6 304.1L424.7 304.3L424.9 304.4L425.1 304.5L425.3 304.6L425.5 304.6L425.6 304.7L425.8 304.8L426.0 304.8L426.2 304.9L426.4 305.0L426.5 305.1L426.7 305.1L426.9 305.2L427.1 305.2L427.3 305.3L427.5 305.3L427.6 305.4L427.8 305.4L428.0 305.4L428.2 305.4L428.4 305.4L428.5 305.4L428.7 305.3L428.9 305.3L429.1 305.2L429.3 305.2L429.4 305.1L429.6 304.9L429.8 304.8L430.0 304.6L430.2 304.3L430.3 303.9L430.5 303.5L430.7 302.9L430.9 302.0L431.1 300.9L431.3 299.5L431.4 297.6L431.6 295.2L431.8 292.1L432.0 288.3L432.2 283.6L432.3 278.0L432.5 271.6L432.7 264.3L432.9 256.3L433.1 247.7L433.2 238.9L433.4 230.1L433.6 221.9L433.8 214.8L434.0 209.3L434.1 205.9L434.3 205.0L434.5 206.7L434.7 210.9L434.9 217.0L435.0 224.6L435.2 233.1L435.4 242.0L435.6 250.9L435.8 259.4L436.0 267.3L436.1 274.5L436.3 280.8L436.5 286.2L436.7 290.7L436.9 294.4L437.0 297.4L437.2 299.8L437.4 301.6L437.6 303.1L437.8 304.2L437.9 305.0L438.1 305.7L438.3 306.2L438.5 306.7L438.7 307.0L438.8 307.3L439.0 307.6L439.2 307.8L439.4 308.0L439.6 308.2L439.8 308.4L439.9 308.5L440.1 308.7L440.3 308.8L440.5 308.9L440.7 309.1L440.8 309.2L441.0 309.3L441.2 309.4L441.4 309.5L441.6 309.5L441.7 309.6L441.9 309.7L442.1 309.8L442.3 309.9L442.5 309.9L442.6 310.0L442.8 310.1L443.0 310.1L443.2 310.2L443.4 310.2L443.6 310.3L443.7 310.3L443.9 310.4L444.1 310.4L444.3 310.4L444.5 310.4L444.6 310.4L444.8 310.5L445.0 310.5L445.2 310.5L445.4 310.5L445.5 310.5L445.7 310.5L445.9 310.5L446.1 310.5L446.3 310.5L446.4 310.4L446.6 310.4L446.8 310.4L447.0 310.4L447.2 310.3L447.3 310.3L447.5 310.3L447.7 310.2L447.9 310.1L448.1 310.1L448.3 310.0L448.4 309.9L448.6 309.8L448.8 309.7L449.0 309.5L449.2 309.3L449.3 309.0L449.5 308.8L449.7 308.4L449.9 307.9L450.1 307.4L450.2 306.7L450.4 305.8L450.6 304.8L450.8 303.6L451.0 302.2L451.1 300.6L451.3 298.7L451.5 296.5L451.7 294.2L451.9 291.6L452.1 288.9L452.2 286.0L452.4 283.1L452.6 280.2L452.8 277.4L453.0 275.0L453.1 272.9L453.3 271.5L453.5 270.6L453.7 270.6L453.9 271.2L454.0 272.6L454.2 274.5L454.4 276.8L454.6 279.5L454.8 282.3L454.9 285.1L455.1 287.9L455.3 290.6L455.5 293.1L455.7 295.3L455.8 297.3L456.0 299.1L456.2 300.5L456.4 301.7L456.6 302.6L456.8 303.2L456.9 303.6L457.1 303.6L457.3 303.2L457.5 302.5L457.7 301.3L457.8 299.7L458.0 297.5L458.2 294.8L458.4 291.4L458.6 287.3L458.7 282.6L458.9 277.2L459.1 271.3L459.3 264.9L459.5 258.4L459.6 251.8L459.8 245.6L460.0 240.0L460.2 235.5L460.4 232.4L460.6 231.0L460.7 231.6L460.9 233.9L461.1 237.8L461.3 243.0L461.5 249.0L461.6 255.6L461.8 262.4L462.0 269.0L462.2 275.3L462.4 281.1L462.5 286.4L462.7 291.0L462.9 295.0L463.1 298.3L463.3 301.1L463.4 303.4L463.6 305.1L463.8 306.6L464.0 307.7L464.2 308.6L464.4 309.2L464.5 309.8L464.7 310.2L464.9 310.5L465.1 310.8L465.3 311.0L465.4 311.3L465.6 311.4L465.8 311.6L466.0 311.7L466.2 311.9L466.3 312.0L466.5 312.1L466.7 312.2L466.9 312.3L467.1 312.4L467.2 312.5L467.4 312.5L467.6 312.6L467.8 312.7L468.0 312.8L468.1 312.8L468.3 312.9L468.5 312.9L468.7 313.0L468.9 313.0L469.1 313.1L469.2 313.1L469.4 313.2L469.6 313.2L469.8 313.3L470.0 313.3L470.1 313.4L470.3 313.4L470.5 313.4L470.7 313.5L470.9 313.5L471.0 313.5L471.2 313.6L471.4 313.6L471.6 313.6L471.8 313.7L471.9 313.7L472.1 313.7L472.3 313.7L472.5 313.8L472.7 313.8L472.9 313.8L473.0 313.8L473.2 313.9L473.4 313.9L473.6 313.9L473.8 313.9L473.9 314.0L474.1 314.0L474.3 314.0L474.5 314.0L474.7 314.0L474.8 314.1L475.0 314.1L475.2 314.1L475.4 314.1L475.6 314.1L475.7 314.2L475.9 314.2L476.1 314.2L476.3 314.2L476.5 314.2L476.7 314.3L476.8 314.3L477.0 314.3L477.2 314.3L477.4 314.3L477.6 314.3L477.7 314.4L477.9 314.4L478.1 314.4L478.3 314.4L478.5 314.4L478.6 314.4L478.8 314.4L479.0 314.4L479.2 314.5L479.4 314.5L479.5 314.5L479.7 314.5L479.9 314.5L480.1 314.5L480.3 314.5L480.4 314.5L480.6 314.5L480.8 314.5L481.0 314.5L481.2 314.4L481.4 314.4L481.5 314.4L481.7 314.4L481.9 314.4L482.1 314.4L482.3 314.4L482.4 314.4L482.6 314.3L482.8 314.3L483.0 314.3L483.2 314.3L483.3 314.3L483.5 314.2L483.7 314.2L483.9 314.2L484.1 314.2L484.2 314.2L484.4 314.1L484.6 314.1L484.8 314.1L485.0 314.0L485.2 314.0L485.3 314.0L485.5 313.9L485.7 313.9L485.9 313.8L486.1 313.8L486.2 313.7L486.4 313.7L486.6 313.6L486.8 313.6L487.0 313.5L487.1 313.4L487.3 313.4L487.5 313.3L487.7 313.2L487.9 313.0L488.0 312.9L488.2 312.8L488.4 312.6L488.6 312.3L488.8 312.1L488.9 311.7L489.1 311.2L489.3 310.7L489.5 309.9L489.7 309.0L489.9 307.9L490.0 306.4L490.2 304.7L490.4 302.6L490.6 300.1L490.8 297.2L490.9 293.9L491.1 290.2L491.3 286.2L491.5 282.0L491.7 277.5L491.8 273.1L492.0 268.8L492.2 264.9L492.4 261.5L492.6 259.0L492.7 257.4L492.9 257.0L493.1 257.8L493.3 259.7L493.5 262.5L493.7 266.0L493.8 270.1L494.0 274.4L494.2 278.9L494.4 283.2L494.6 287.4L494.7 291.3L494.9 294.9L495.1 298.0L495.3 300.8L495.5 303.1L495.6 305.1L495.8 306.7L496.0 308.0L496.2 309.1L496.4 309.9L496.5 310.6L496.7 311.1L496.9 311.5L497.1 311.8L497.3 312.1L497.5 312.3L497.6 312.5L497.8 312.6L498.0 312.7L498.2 312.8L498.4 312.9L498.5 313.0L498.7 313.0L498.9 313.1L499.1 313.1L499.3 313.2L499.4 313.2L499.6 313.2L499.8 313.3L500.0 313.3L500.2 313.3L500.3 313.4L500.5 313.4L500.7 313.4L500.9 313.4L501.1 313.4L501.2 313.4L501.4 313.4L501.6 313.4L501.8 313.5L502.0 313.5L502.2 313.5L502.3 313.5L502.5 313.5L502.7 313.4L502.9 313.4L503.1 313.4L503.2 313.4L503.4 313.4L503.6 313.4L503.8 313.4L504.0 313.4L504.1 313.3L504.3 313.3L504.5 313.3L504.7 313.3L504.9 313.2L505.0 313.2L505.2 313.2L505.4 313.1L505.6 313.1L505.8 313.1L506.0 313.0L506.1 313.0L506.3 312.9L506.5 312.8L506.7 312.8L506.9 312.7L507.0 312.6L507.2 312.5L507.4 312.3L507.6 312.2L507.8 312.0L507.9 311.8L508.1 311.5L508.3 311.1L508.5 310.7L508.7 310.1L508.8 309.4L509.0 308.5L509.2 307.4L509.4 306.0L509.6 304.4L509.8 302.5L509.9 300.2L510.1 297.6L510.3 294.7L510.5 291.5L510.7 288.0L510.8 284.3L511.0 280.4L511.2 276.6L511.4 272.8L511.6 269.4L511.7 266.4L511.9 264.1L512.1 262.6L512.3 262.0L512.5 262.4L512.6 263.7L512.8 265.9L513.0 268.7L513.2 272.1L513.4 275.8L513.5 279.6L513.7 283.4L513.9 287.2L514.1 290.7L514.3 294.0L514.5 297.0L514.6 299.6L514.8 301.9L515.0 303.9L515.2 305.5L515.4 306.9L515.5 308.1L515.7 309.0L515.9 309.7L516.1 310.3L516.3 310.7L516.4 311.1L516.6 311.4L516.8 311.6L517.0 311.8L517.2 311.9L517.3 312.0L517.5 312.1L517.7 312.2L517.9 312.3L518.1 312.3L518.3 312.4L518.4 312.4L518.6 312.5L518.8 312.5L519.0 312.5L519.2 312.5L519.3 312.6L519.5 312.6L519.7 312.6L519.9 312.6L520.1 312.6L520.2 312.6L520.4 312.6L520.6 312.5L520.8 312.5L521.0 312.5L521.1 312.5L521.3 312.4L521.5 312.4L521.7 312.4L521.9 312.3L522.1 312.3L522.2 312.2L522.4 312.1L522.6 312.1L522.8 312.0L523.0 311.9L523.1 311.8L523.3 311.7L523.5 311.6L523.7 311.4L523.9 311.2L524.0 311.0L524.2 310.8L524.4 310.5L524.6 310.1L524.8 309.5L524.9 308.8L525.1 307.8L525.3 306.5L525.5 304.8L525.7 302.6L525.8 299.7L526.0 296.2L526.2 291.8L526.4 286.5L526.6 280.4L526.8 273.6L526.9 266.1L527.1 258.2L527.3 250.3L527.5 242.7L527.7 236.0L527.8 230.7L528.0 227.2L528.2 226.0L528.4 227.1L528.6 230.5L528.7 235.7L528.9 242.3L529.1 249.8L529.3 257.6L529.5 265.3L529.6 272.7L529.8 279.4L530.0 285.3L530.2 290.3L530.4 294.3L530.6 297.5L530.7 299.8L530.9 301.4L531.1 302.2L531.3 302.2L531.5 301.7L531.6 300.5L531.8 298.7L532.0 296.3L532.2 293.3L532.4 289.9L532.5 286.2L532.7 282.2L532.9 278.1L533.1 274.3L533.3 270.9L533.4 268.2L533.6 266.5L533.8 266.0L534.0 266.7L534.2 268.6L534.3 271.5L534.5 275.1L534.7 279.1L534.9 283.3L535.1 287.4L535.3 291.4L535.4 295.0L535.6 298.2L535.8 300.9L536.0 303.2L536.2 305.1L536.3 306.6L536.5 307.7L536.7 308.6L536.9 309.3L537.1 309.8L537.2 310.1L537.4 310.4L537.6 310.6L537.8 310.8L538.0 310.9L538.1 311.0L538.3 311.0L538.5 311.1L538.7 311.1L538.9 311.1L539.1 311.2L539.2 311.2L539.4 311.2L539.6 311.2L539.8 311.2L540.0 311.2L540.1 311.2L540.3 311.2L540.5 311.2L540.7 311.2L540.9 311.2L541.0 311.2L541.2 311.1L541.4 311.1L541.6 311.0L541.8 310.9L541.9 310.8L542.1 310.7L542.3 310.5L542.5 310.2L542.7 309.9L542.9 309.5L543.0 309.0L543.2 308.4L543.4 307.6L543.6 306.7L543.8 305.6L543.9 304.2L544.1 302.7L544.3 301.0L544.5 299.1L544.7 296.9L544.8 294.6L545.0 292.1L545.2 289.6L545.4 286.9L545.6 284.3L545.7 281.8L545.9 279.6L546.1 277.6L546.3 276.0L546.5 275.0L546.6 274.5L546.8 274.7L547.0 275.4L547.2 276.8L547.4 278.6L547.6 280.7L547.7 283.2L547.9 285.7L548.1 288.4L548.3 291.1L548.5 293.7L548.6 296.1L548.8 298.4L549.0 300.5L549.2 302.4L549.4 304.1L549.5 305.5L549.7 306.8L549.9 307.9L550.1 308.8L550.3 309.5L550.4 310.1L550.6 310.6L550.8 311.0L551.0 311.4L551.2 311.7L551.4 311.9L551.5 312.1L551.7 312.2L551.9 312.3L552.1 312.5L552.3 312.5L552.4 312.6L552.6 312.7L552.8 312.8L553.0 312.8L553.2 312.9L553.3 312.9L553.5 313.0L553.7 313.0L553.9 313.0L554.1 313.1L554.2 313.1L554.4 313.1L554.6 313.1L554.8 313.2L555.0 313.2L555.2 313.2L555.3 313.2L555.5 313.2L555.7 313.2L555.9 313.2L556.1 313.2L556.2 313.2L556.4 313.2L556.6 313.2L556.8 313.2L557.0 313.2L557.1 313.2L557.3 313.2L557.5 313.2L557.7 313.1L557.9 313.1L558.0 313.1L558.2 313.0L558.4 313.0L558.6 313.0L558.8 312.9L558.9 312.9L559.1 312.8L559.3 312.7L559.5 312.7L559.7 312.6L559.9 312.5L560.0 312.4L560.2 312.3L560.4 312.1L560.6 312.0L560.8 311.8L560.9 311.6L561.1 311.4L561.3 311.2L561.5 310.9L561.7 310.6L561.8 310.2L562.0 309.7L562.2 309.2L562.4 308.6L562.6 307.8L562.7 306.8L562.9 305.6L563.1 304.2L563.3 302.5L563.5 300.3L563.7 297.8L563.8 294.7L564.0 291.1L564.2 286.9L564.4 282.1L564.6 276.5L564.7 270.3L564.9 263.4L565.1 255.9L565.3 247.8L565.5 239.2L565.6 230.3L565.8 221.3L566.0 212.4L566.2 203.8L566.4 195.9L566.5 189.0L566.7 183.4L566.9 179.3L567.1 177.1L567.3 176.8L567.4 178.6L567.6 182.2L567.8 187.5L568.0 194.1L568.2 201.8L568.4 210.3L568.5 219.1L568.7 228.1L568.9 237.0L569.1 245.7L569.3 253.9L569.4 261.6L569.6 268.6L569.8 275.0L570.0 280.7L570.2 285.7L570.3 290.1L570.5 293.8L570.7 297.0L570.9 299.6L571.1 301.8L571.2 303.7L571.4 305.2L571.6 306.4L571.8 307.4L572.0 308.2L572.2 308.9L572.3 309.4L572.5 309.9L572.7 310.3L572.9 310.6L573.1 310.9L573.2 311.1L573.4 311.3L573.6 311.5L573.8 311.7L574.0 311.8L574.1 312.0L574.3 312.1L574.5 312.2L574.7 312.3L574.9 312.4L575.0 312.5L575.2 312.6L575.4 312.7L575.6 312.8L575.8 312.9L576.0 312.9L576.1 313.0L576.3 313.0L576.5 313.1L576.7 313.1L576.9 313.2L577.0 313.2L577.2 313.3L577.4 313.3L577.6 313.4L577.8 313.4L577.9 313.4L578.1 313.4L578.3 313.5L578.5 313.5L578.7 313.5L578.8 313.5L579.0 313.6L579.2 313.6L579.4 313.6L579.6 313.6L579.7 313.6L579.9 313.6L580.1 313.6L580.3 313.6L580.5 313.7L580.7 313.7L580.8 313.7L581.0 313.7L581.2 313.7L581.4 313.7L581.6 313.7L581.7 313.7L581.9 313.7L582.1 313.7L582.3 313.7L582.5 313.7L582.6 313.7L582.8 313.7L583.0 313.7L583.2 313.7L583.4 313.7L583.5 313.7L583.7 313.7L583.9 313.6L584.1 313.6L584.3 313.6L584.5 313.6L584.6 313.6L584.8 313.5L585.0 313.5L585.2 313.5L585.4 313.4L585.5 313.4L585.7 313.4L585.9 313.3L586.1 313.3L586.3 313.2L586.4 313.2L586.6 313.1L586.8 313.1L587.0 313.0L587.2 312.9L587.3 312.8L587.5 312.7L587.7 312.6L587.9 312.5L588.1 312.4L588.3 312.3L588.4 312.1L588.6 311.9L588.8 311.7L589.0 311.4L589.2 311.0L589.3 310.6L589.5 310.2L589.7 309.6L589.9 308.9L590.1 308.0L590.2 307.0L590.4 305.8L590.6 304.3L590.8 302.6L591.0 300.6L591.1 298.2L591.3 295.6L591.5 292.6L591.7 289.2L591.9 285.5L592.0 281.4L592.2 277.0L592.4 272.3L592.6 267.5L592.8 262.5L593.0 257.4L593.1 252.4L593.3 247.7L593.5 243.2L593.7 239.3L593.9 236.0L594.0 233.5L594.2 232.0L594.4 231.5L594.6 232.0L594.8 233.6L594.9 236.0L595.1 239.3L595.3 243.3L595.5 247.7L595.7 252.5L595.8 257.5L596.0 262.6L596.2 267.6L596.4 272.5L596.6 277.1L596.8 281.5L596.9 285.6L597.1 289.3L597.3 292.7L597.5 295.8L597.7 298.4L597.8 300.8L598.0 302.8L598.2 304.5L598.4 306.0L598.6 307.2L598.7 308.2L598.9 309.1L599.1 309.8L599.3 310.4L599.5 310.9L599.6 311.3L599.8 311.7L600.0 312.0L600.2 312.2L600.4 312.4L600.5 312.5L600.7 312.7L600.9 312.8L601.1 312.9L601.3 313.0L601.5 313.0L601.6 313.1L601.8 313.2L602.0 313.2L602.2 313.3L602.4 313.3L602.5 313.4L602.7 313.4L602.9 313.4L603.1 313.5L603.3 313.5L603.4 313.5L603.6 313.5L603.8 313.6L604.0 313.6L604.2 313.6L604.3 313.6L604.5 313.6L604.7 313.6L604.9 313.6L605.1 313.6L605.3 313.6L605.4 313.6L605.6 313.6L605.8 313.6L606.0 313.6L606.2 313.6L606.3 313.6L606.5 313.6L606.7 313.6L606.9 313.6L607.1 313.6L607.2 313.6L607.4 313.6L607.6 313.6L607.8 313.6L608.0 313.6L608.1 313.5L608.3 313.5L608.5 313.5L608.7 313.5L608.9 313.5L609.1 313.5L609.2 313.5L609.4 313.4L609.6 313.4L609.8 313.4L610.0 313.4L610.1 313.4L610.3 313.4L610.5 313.3L610.7 313.3L610.9 313.3L611.0 313.3L611.2 313.3L611.4 313.2L611.6 313.2L611.8 313.2L611.9 313.2L612.1 313.2L612.3 313.1L612.5 313.1L612.7 313.1L612.8 313.1L613.0 313.0L613.2 313.0L613.4 313.0L613.6 313.0L613.8 312.9L613.9 312.9L614.1 312.9L614.3 312.8L614.5 312.8L614.7 312.8L614.8 312.8L615.0 312.7L615.2 312.7L615.4 312.7L615.6 312.6L615.7 312.6L615.9 312.6L616.1 312.5L616.3 312.5L616.5 312.4L616.6 312.4L616.8 312.4L617.0 312.3L617.2 312.3L617.4 312.2L617.6 312.2L617.7 312.2L617.9 312.1L618.1 312.1L618.3 312.0L618.5 312.0L618.6 311.9L618.8 311.8L619.0 311.8L619.2 311.7L619.4 311.7L619.5 311.6L619.7 311.5L619.9 311.5L620.1 311.4L620.3 311.3L620.4 311.2L620.6 311.1L620.8 311.0L621.0 310.8L621.2 310.7L621.4 310.6L621.5 310.4L621.7 310.2L621.9 310.0L622.1 309.8L622.3 309.5L622.4 309.2L622.6 308.8L622.8 308.4L623.0 307.9L623.2 307.3L623.3 306.6L623.5 305.7L623.7 304.8L623.9 303.7L624.1 302.4L624.2 301.0L624.4 299.3L624.6 297.5L624.8 295.4L625.0 293.2L625.1 290.7L625.3 288.0L625.5 285.2L625.7 282.1L625.9 279.0L626.1 275.8L626.2 272.5L626.4 269.2L626.6 266.0L626.8 263.0L627.0 260.2L627.1 257.7L627.3 255.6L627.5 254.0L627.7 253.0L627.9 252.5L628.0 252.7L628.2 253.4L628.4 254.7L628.6 256.6L628.8 258.8L628.9 261.4L629.1 264.3L629.3 267.4L629.5 270.5L629.7 273.7L629.9 276.9L630.0 280.1L630.2 283.1L630.4 285.9L630.6 288.6L630.8 291.1L630.9 293.4L631.1 295.5L631.3 297.3L631.5 299.0L631.7 300.5L631.8 301.7L632.0 302.9L632.2 303.8L632.4 304.6L632.6 305.3L632.7 305.9L632.9 306.4L633.1 306.8L633.3 307.1L633.5 307.4L633.6 307.6L633.8 307.8L634.0 307.9L634.2 308.0L634.4 308.1L634.6 308.2L634.7 308.3L634.9 308.4L635.1 308.4L635.3 308.4L635.5 308.5L635.6 308.5L635.8 308.5L636.0 308.5L636.2 308.5L636.4 308.6L636.5 308.6L636.7 308.6L636.9 308.6L637.1 308.6L637.3 308.5L637.4 308.5L637.6 308.5L637.8 308.5L638.0 308.5L638.2 308.5L638.4 308.4L638.5 308.4L638.7 308.4L638.9 308.4L639.1 308.3L639.3 308.3L639.4 308.2L639.6 308.2L639.8 308.1L640.0 308.1L640.2 308.1L640.3 308.1L640.5 308.1L640.7 308.0L640.9 308.0L641.1 307.9L641.2 307.8L641.4 307.7L641.6 307.6L641.8 307.5L642.0 307.3L642.2 307.0L642.3 306.8L642.5 306.5L642.7 306.1L642.9 305.7L643.1 305.2L643.2 304.7L643.4 304.1L643.6 303.4L643.8 302.7L644.0 302.0L644.1 301.2L644.3 300.3L644.5 299.5L644.7 298.5L644.9 297.6L645.0 296.7L645.2 295.8L645.4 295.0L645.6 294.2L645.8 293.5L645.9 292.9L646.1 292.5L646.3 292.2L646.5 292.0L646.7 292.0L646.9 292.2L647.0 292.6L647.2 293.1L647.4 293.7L647.6 294.4L647.8 295.3L647.9 296.2L648.1 297.1L648.3 298.1L648.5 299.1L648.7 300.0L648.8 301.0L649.0 301.9L649.2 302.8L649.4 303.6L649.6 304.4L649.7 305.1L649.9 305.8L650.1 306.4L650.3 307.0L650.5 307.5L650.7 307.9L650.8 308.3L651.0 308.7L651.2 309.0L651.4 309.2L651.6 309.5L651.7 309.7L651.9 309.8L652.1 310.0L652.3 310.1L652.5 310.2L652.6 310.3L652.8 310.4L653.0 310.5L653.2 310.6L653.4 310.7L653.5 310.7L653.7 310.8L653.9 310.9L654.1 310.9L654.3 311.0L654.5 311.0L654.6 311.1L654.8 311.1L655.0 311.1L655.2 311.2L655.4 311.2L655.5 311.3L655.7 311.3L655.9 311.3L656.1 311.4L656.3 311.4L656.4 311.4L656.6 311.5L656.8 311.5L657.0 311.5L657.2 311.6L657.3 311.6L657.5 311.6L657.7 311.6L657.9 311.7L658.1 311.7L658.2 311.7L658.4 311.7L658.6 311.7L658.8 311.8L659.0 311.8L659.2 311.8L659.3 311.8L659.5 311.8L659.7 311.8L659.9 311.8L660.1 311.8L660.2 311.8L660.4 311.8L660.6 311.7L660.8 311.7L661.0 311.6L661.1 311.6L661.3 311.5L661.5 311.4L661.7 311.3L661.9 311.2L662.0 311.1L662.2 310.9L662.4 310.7L662.6 310.5L662.8 310.3L663.0 310.0L663.1 309.7L663.3 309.3L663.5 308.9L663.7 308.4L663.9 307.9L664.0 307.3L664.2 306.7L664.4 306.0L664.6 305.3L664.8 304.5L664.9 303.6L665.1 302.7L665.3 301.8L665.5 300.8L665.7 299.8L665.8 298.8L666.0 297.8L666.2 296.8L666.4 295.9L666.6 295.0L666.8 294.2L666.9 293.5L667.1 292.9L667.3 292.4L667.5 292.1L667.7 292.0L667.8 292.0L668.0 292.2L668.2 292.6L668.4 293.1L668.6 293.8L668.7 294.5L668.9 295.3L669.1 296.2L669.3 297.2L669.5 298.2L669.6 299.2L669.8 300.2L670.0 301.1L670.2 302.1L670.4 303.0L670.5 303.9L670.7 304.7L670.9 305.4L671.1 306.1L671.3 306.8L671.5 307.4L671.6 307.9L671.8 308.4L672.0 308.8L672.2 309.2L672.4 309.5L672.5 309.8L672.7 310.0L672.9 310.3L673.1 310.4L673.3 310.6L673.4 310.7L673.6 310.8L673.8 310.9L674.0 311.0L674.2 311.0L674.3 311.1L674.5 311.1L674.7 311.1L674.9 311.1L675.1 311.1L675.3 311.1L675.4 311.0L675.6 311.0L675.8 310.9L676.0 310.9L676.2 310.8L676.3 310.7L676.5 310.6L676.7 310.4L676.9 310.3L677.1 310.1L677.2 309.9L677.4 309.7L677.6 309.4L677.8 309.1L678.0 308.8L678.1 308.5L678.3 308.2L678.5 307.8L678.7 307.4L678.9 307.0L679.0 306.6L679.2 306.2L679.4 305.7L679.6 305.3L679.8 304.9L680.0 304.5L680.1 304.2L680.3 303.8L680.5 303.6L680.7 303.3L680.9 303.2L681.0 303.0L681.2 303.0L681.4 303.0L681.6 303.1L681.8 303.3L681.9 303.5L682.1 303.8L682.3 304.1L682.5 304.4L682.7 304.8L682.8 305.2L683.0 305.7L683.2 306.1L683.4 306.5L683.6 307.0L683.8 307.4L683.9 307.8L684.1 308.2L684.3 308.6L684.5 309.0L684.7 309.3L684.8 309.6L685.0 309.9L685.2 310.2L685.4 310.4L685.6 310.6L685.7 310.8L685.9 311.0L686.1 311.2L686.3 311.3L686.5 311.4L686.6 311.5L686.8 311.6L687.0 311.7L687.2 311.8L687.4 311.8L687.6 311.9L687.7 311.9L687.9 312.0L688.1 312.0L688.3 312.0L688.5 312.1L688.6 312.1L688.8 312.1L689.0 312.1L689.2 312.1L689.4 312.1L689.5 312.1L689.7 312.1L689.9 312.1L690.1 312.1L690.3 312.1L690.4 312.1L690.6 312.1L690.8 312.1L691.0 312.1L691.2 312.1L691.3 312.1L691.5 312.1L691.7 312.0L691.9 312.0L692.1 312.0L692.3 312.0L692.4 311.9L692.6 311.9L692.8 311.8L693.0 311.8L693.2 311.7L693.3 311.7L693.5 311.6L693.7 311.5L693.9 311.4L694.1 311.3L694.2 311.1L694.4 311.0L694.6 310.8L694.8 310.6L695.0 310.3L695.1 310.0L695.3 309.6L695.5 309.2L695.7 308.7L695.9 308.2L696.1 307.5L696.2 306.8L696.4 306.0L696.6 305.1L696.8 304.1L697.0 303.1L697.1 301.9L697.3 300.7L697.5 299.4L697.7 298.0L697.9 296.7L698.0 295.3L698.2 294.0L698.4 292.8L698.6 291.7L698.8 290.7L698.9 290.0L699.1 289.4L699.3 289.1L699.5 289.0L699.7 289.1L699.9 289.3L700.0 289.5L700.2 289.6L700.4 289.8L700.6 289.9L700.8 289.9L700.9 289.7L701.1 289.5L701.3 289.1L701.5 288.5L701.7 287.9L701.8 287.0L702.0 286.1L702.2 285.1L702.4 284.0L702.6 282.8L702.7 281.6L702.9 280.3L703.1 279.2L703.3 278.0L703.5 277.0L703.6 276.1L703.8 275.3L704.0 274.7L704.2 274.4L704.4 274.2L704.6 274.3L704.7 274.6L704.9 275.1L705.1 275.8L705.3 276.7L705.5 277.8L705.6 279.0L705.8 280.3L706.0 281.6L706.2 283.1L706.4 284.5L706.5 286.0L706.7 287.5L706.9 288.9L707.1 290.2L707.3 291.5L707.4 292.7L707.6 293.9L707.8 294.9L708.0 295.8L708.2 296.6L708.4 297.3L708.5 297.9L708.7 298.3L708.9 298.7L709.1 299.0L709.3 299.2L709.4 299.4L709.6 299.5L709.8 299.6L710.0 299.7L710.2 299.8L710.3 300.0L710.5 300.3L710.7 300.5L710.9 300.8L711.1 301.2L711.2 301.5L711.4 301.9L711.6 302.2L711.8 302.5L712.0 302.8L712.1 303.0L712.3 303.2L712.5 303.3L712.7 303.4L712.9 303.4L713.1 303.4L713.2 303.4L713.4 303.2L713.6 303.1L713.8 302.9L714.0 302.6L714.1 302.2L714.3 301.9L714.5 301.4L714.7 300.9L714.9 300.4L715.0 299.8L715.2 299.3L715.4 298.7L715.6 298.0L715.8 297.3L715.9 296.5L716.1 295.7L716.3 294.8L716.5 293.9L716.7 292.9L716.9 291.8L717.0 290.8L717.2 289.7L717.4 288.6L717.6 287.5L717.8 286.4L717.9 285.4L718.1 284.4L718.3 283.4L718.5 282.6L718.7 281.8L718.8 281.1L719.0 280.6L719.2 280.3L719.4 280.0L719.6 280.0L719.7 280.1L719.9 280.4L720.1 280.8L720.3 281.4L720.5 282.2L720.7 283.1L720.8 284.0L721.0 285.1L721.2 286.2L721.4 287.4L721.6 288.6L721.7 289.8L721.9 291.0L722.1 292.3L722.3 293.5L722.5 294.7L722.6 295.8L722.8 296.9L723.0 298.0L723.2 299.0L723.4 299.9L723.5 300.8L723.7 301.6L723.9 302.4L724.1 303.1L724.3 303.7L724.4 304.3L724.6 304.9L724.8 305.4L725.0 305.8L725.2 306.2L725.4 306.6L725.5 306.9L725.7 307.2L725.9 307.5L726.1 307.7L726.3 307.9L726.4 308.1L726.6 308.3L726.8 308.4L727.0 308.6L727.2 308.7L727.3 308.8L727.5 308.9L727.7 309.0L727.9 309.1L728.1 309.2L728.2 309.2L728.4 309.3L728.6 309.4L728.8 309.4L729.0 309.5L729.2 309.5L729.3 309.6L729.5 309.6L729.7 309.6L729.9 309.6L730.1 309.6L730.2 309.5L730.4 309.3L730.6 309.2L730.8 309.0L731.0 308.9L731.1 308.7L731.3 308.5L731.5 308.3L731.7 308.1L731.9 307.9L732.0 307.7L732.2 307.4L732.4 307.1L732.6 306.8L732.8 306.5L733.0 306.2L733.1 305.8L733.3 305.3L733.5 304.8L733.7 304.3L733.9 303.7L734.0 303.0L734.2 302.3L734.4 301.5L734.6 300.5L734.8 299.5L734.9 298.4L735.1 297.2L735.3 295.8L735.5 294.4L735.7 292.8L735.8 291.0L736.0 289.1L736.2 287.1L736.4 284.9L736.6 282.6L736.7 280.1L736.9 277.5L737.1 274.8L737.3 272.0L737.5 269.0L737.7 266.0L737.8 262.9L738.0 259.8L738.2 256.6L738.4 253.4L738.6 250.3L738.7 247.3L738.9 244.3L739.1 241.5L739.3 238.9L739.5 236.5L739.6 234.4L739.8 232.6L740.0 231.1L740.2 230.0L740.4 229.3L740.5 229.0L740.7 229.0L740.9 229.4L741.1 230.2L741.3 231.3L741.5 232.7L741.6 234.3L741.8 236.1L742.0 238.1L742.2 240.1L742.4 242.2L742.5 244.4L742.7 246.5L742.9 248.6L743.1 250.5L743.3 252.5L743.4 254.3L743.6 255.9L743.8 257.5L744.0 259.0L744.2 260.4L744.3 261.6L744.5 262.8L744.7 264.0L744.9 265.1L745.1 266.3L745.2 267.4L745.4 268.7L745.6 269.9L745.8 271.3L746.0 272.7L746.2 274.2L746.3 275.7L746.5 277.3L746.7 278.9L746.9 280.5L747.1 282.1L747.2 283.6L747.4 285.1L747.6 286.6L747.8 288.0L748.0 289.3L748.1 290.5L748.3 291.7L748.5 292.7L748.7 293.6L748.9 294.5L749.0 295.2L749.2 295.8L749.4 296.4L749.6 296.9L749.8 297.3L750.0 297.6L750.1 298.1L750.3 298.5L750.5 298.8L750.7 299.1L750.9 299.4L751.0 299.6L751.2 299.8L751.4 299.9L751.6 300.0L751.8 300.0L751.9 300.0L752.1 299.9L752.3 299.7L752.5 299.5L752.7 299.3L752.8 299.0L753.0 298.8L753.2 298.5L753.4 298.2L753.6 297.9L753.8 297.6L753.9 297.5L754.1 297.4L754.3 297.4L754.5 297.6L754.7 297.8L754.8 298.2L755.0 298.6L755.2 299.1L755.4 299.7L755.6 300.3L755.7 300.9L755.9 301.5L756.1 302.1L756.3 302.7L756.5 303.2L756.6 303.6L756.8 304.1L757.0 304.5L757.2 304.8L757.4 305.1L757.5 305.4L757.7 305.6L757.9 305.8L758.1 306.0L758.3 306.2L758.5 306.4L758.6 306.5L758.8 306.7L759.0 306.8L759.2 307.0L759.4 307.1L759.5 307.2L759.7 307.4L759.9 307.5L760.1 307.6L760.3 307.8L760.4 307.9L760.6 308.0L760.8 308.1L761.0 308.3L761.2 308.4L761.3 308.5L761.5 308.6L761.7 308.8L761.9 308.9L762.1 309.0L762.3 309.1L762.4 309.3L762.6 309.4L762.8 309.5L763.0 309.6L763.2 309.8L763.3 309.9L763.5 310.0L763.7 310.1L763.9 310.2L764.1 310.4L764.2 310.5L764.4 310.6L764.6 310.7L764.8 310.8L765.0 311.0L765.1 311.1L765.3 311.2L765.5 311.3L765.7 311.4L765.9 311.5L766.1 311.7L766.2 311.8L766.4 311.9L766.6 312.0L766.8 312.1L767.0 312.2L767.1 312.4L767.3 312.5L767.5 312.6L767.7 312.7L767.9 312.8L768.0 312.9L768.2 313.1L768.4 313.2L768.6 313.3L768.8 313.4L768.9 313.5L769.1 313.6L769.3 313.8L769.5 313.9L769.7 314.0L769.8 314.1L770.0 314.2L770.2 314.3L770.4 314.5L770.6 314.6L770.8 314.7L770.9 314.8L771.1 314.9L771.3 315.0L771.5 315.1L771.7 315.3" fill="none" stroke="#df2a35" stroke-width="2.5" stroke-linejoin="round"/>
<path d="M304.8 391.4L304.8 391.3L305.6 390.7L306.4 391.5L307.2 391.9L308.0 392.4L308.8 392.2L309.6 392.4L310.0 392.6L310.4 392.4L311.2 392.8L312.0 392.5L312.8 392.5L313.6 392.5L314.4 392.9L315.2 392.6L316.0 392.3L316.8 393.1L317.6 392.7L318.4 393.0L319.2 393.1L320.0 393.0L320.0 393.4L320.8 393.3L321.6 392.7L322.4 392.8L323.2 392.4L324.0 393.3L324.8 392.8L325.6 393.1L326.4 392.5L327.2 392.0L328.0 393.0L328.8 392.5L329.6 392.5L330.0 392.4L330.4 392.4L331.2 392.7L332.0 392.7L332.8 392.1L333.6 393.0L334.4 392.6L335.2 392.7L336.0 393.4L336.8 393.2L337.6 392.9L338.4 392.5L339.2 393.2L340.0 393.2L340.0 393.4L340.8 393.1L341.6 392.7L342.4 392.7L343.2 392.5L344.0 392.9L344.8 393.0L345.6 392.9L346.0 392.6L346.4 392.6L347.2 393.3L348.0 393.8L348.8 393.8L349.6 394.4L350.4 395.4L350.8 395.0L351.2 394.3L352.0 393.1L352.8 391.2L353.0 391.0L353.6 390.0L354.4 388.2L354.6 388.4L355.2 392.0L356.0 397.2L356.5 399.8L356.8 397.5L357.6 389.5L358.0 385.2L358.4 389.1L359.2 396.2L359.6 399.8L360.0 398.0L360.8 394.8L361.5 392.0L361.6 392.2L362.4 391.9L363.2 392.6L364.0 392.1L364.8 392.1L365.6 392.4L366.0 392.8L366.4 392.1L367.2 391.8L368.0 392.1L368.8 391.3L369.6 391.1L370.4 390.9L371.0 390.3L371.2 390.9L372.0 391.2L372.8 392.6L373.6 393.1L374.0 393.4L374.4 393.3L375.2 393.3L376.0 392.5L376.8 392.5L377.6 392.6L378.0 392.5L378.4 392.0L379.2 390.3L380.0 389.0L380.8 387.9L381.6 386.7L382.2 385.2L382.4 386.3L383.2 390.0L384.0 393.0L384.8 396.6L384.8 396.5L385.6 395.4L386.4 393.9L387.0 393.0L387.2 392.8L388.0 393.4L388.8 392.8L389.6 392.5L390.4 392.8L391.2 393.1L392.0 392.5L392.0 392.5L392.8 392.9L393.6 392.5L394.4 392.6L395.2 392.6L396.0 392.8L396.8 393.5L397.6 392.6L398.0 393.0L398.4 393.6L399.2 392.9L400.0 393.3L400.8 393.7L401.6 393.8L402.4 393.8L403.2 393.4L404.0 394.1L404.5 394.1L404.8 393.6L405.6 394.2L406.4 392.9L407.2 392.6L407.7 392.2L408.0 391.9L408.8 392.3L409.6 392.2L410.4 393.0L410.9 392.8L411.2 393.4L412.0 395.4L412.8 396.8L413.6 398.6L413.8 399.2L414.4 395.7L415.2 389.8L415.9 385.5L416.0 385.8L416.8 393.4L417.6 399.9L417.8 402.0L418.4 395.6L419.2 387.6L420.0 378.9L420.0 378.7L420.8 384.2L421.6 388.9L422.3 393.5L422.4 394.0L423.2 394.1L424.0 393.7L424.8 393.9L425.5 394.1L425.6 394.0L426.4 395.1L427.2 396.2L428.0 396.2L428.6 397.3L428.8 397.2L429.6 395.1L430.4 393.8L431.2 392.1L432.0 391.8L432.8 389.7L432.8 389.7L433.6 396.0L434.4 401.9L434.6 403.6L435.2 401.6L436.0 397.6L436.8 395.1L436.9 394.7L437.6 395.2L438.4 394.2L439.2 394.2L440.0 394.2L440.8 393.5L441.6 393.6L442.0 393.5L442.4 393.6L443.2 393.0L444.0 392.7L444.8 392.2L445.6 392.0L446.4 391.6L447.2 391.6L448.0 391.1L448.3 390.7L448.8 391.2L449.6 391.4L450.4 393.3L451.2 394.2L452.0 394.5L452.8 395.1L453.6 396.6L453.6 396.3L454.4 396.0L455.2 394.6L456.0 393.9L456.8 393.3L457.2 392.8L457.6 392.1L458.4 389.6L459.2 387.4L460.0 385.1L460.1 385.0L460.8 389.5L461.6 394.0L462.0 396.0L462.4 395.6L463.2 394.5L464.0 393.9L464.8 393.6L465.6 392.4L466.1 392.2L466.4 392.5L467.2 392.6L468.0 392.8L468.8 393.1L469.6 393.3L470.4 393.1L471.1 393.5L471.2 393.4L472.0 394.1L472.8 393.0L473.6 393.2L474.4 393.6L475.2 393.1L476.0 392.9L476.8 392.7L477.6 393.1L478.4 393.2L479.2 393.3L480.0 392.8L480.0 392.8L480.8 393.2L481.6 392.7L482.4 393.1L483.2 393.0L484.0 393.3L484.8 393.6L485.6 393.8L486.4 393.2L487.0 393.6L487.2 394.1L488.0 394.2L488.8 394.6L489.6 395.5L490.2 396.0L490.4 395.3L491.2 394.8L492.0 393.9L492.8 392.8L493.6 392.0L493.8 391.6L494.4 391.6L495.2 391.8L496.0 391.5L496.8 392.0L497.6 391.9L498.4 392.1L499.2 392.4L500.0 392.5L500.0 392.6L500.8 391.9L501.6 391.9L502.4 392.2L503.2 392.3L504.0 392.2L504.8 392.3L505.2 392.0L505.6 392.7L506.4 393.2L507.2 393.7L508.0 394.1L508.4 394.7L508.8 393.8L509.6 392.8L510.4 391.9L511.2 390.8L512.0 389.5L512.8 388.4L512.8 388.4L513.6 391.3L514.1 392.8L514.4 392.8L515.2 392.7L516.0 392.5L516.8 392.1L517.6 391.8L518.4 392.1L519.2 392.0L520.0 391.6L520.5 391.6L520.8 391.6L521.6 392.8L522.4 392.3L523.2 392.9L524.0 393.4L524.3 393.5L524.8 394.0L525.6 395.6L526.4 397.4L527.2 398.2L527.2 398.5L528.0 395.1L528.7 392.0L528.8 392.1L529.6 391.3L530.4 390.9L531.2 389.9L532.0 389.2L532.8 388.7L533.6 388.2L533.8 387.8L534.4 389.5L535.2 391.7L535.7 392.8L536.0 392.2L536.8 393.3L537.6 393.7L538.4 393.4L539.2 393.0L540.0 392.9L540.8 393.4L541.6 393.0L542.4 393.6L543.2 393.3L543.3 393.5L544.0 393.2L544.8 392.7L545.6 391.1L546.4 391.1L547.2 390.2L548.0 389.4L548.6 389.3L548.8 389.4L549.6 390.7L550.4 392.3L551.2 392.7L552.0 394.7L552.2 394.7L552.8 394.6L553.6 393.3L554.4 392.3L555.2 391.2L556.0 390.3L556.0 389.9L556.8 391.2L557.6 391.8L558.4 392.6L559.2 393.9L560.0 394.0L560.8 394.7L561.0 394.7L561.6 394.8L562.4 393.5L563.2 393.1L564.0 392.9L564.8 392.4L564.9 392.5L565.6 395.4L566.4 398.2L566.8 399.8L567.2 399.2L568.0 396.8L568.8 394.2L569.3 392.5L569.6 392.5L570.4 393.1L571.2 393.4L572.0 393.1L572.8 393.8L573.6 394.1L573.8 394.0L574.4 393.9L575.2 394.2L576.0 393.9L576.8 393.2L577.6 393.3L578.4 392.9L579.2 393.1L580.0 392.8L580.0 392.5L580.8 393.1L581.6 393.0L582.4 393.2L583.2 392.9L584.0 392.5L584.8 393.5L585.0 393.0L585.6 393.0L586.4 393.5L587.2 393.3L588.0 393.4L588.8 393.8L589.6 393.4L590.4 393.8L591.2 393.0L592.0 393.7L592.6 393.5L592.8 392.7L593.6 389.8L594.4 386.9L594.5 386.5L595.2 391.4L596.0 397.4L596.8 402.4L596.8 401.8L597.6 398.5L598.4 394.3L599.0 391.6L599.2 391.9L600.0 391.2L600.8 391.3L601.6 390.8L602.4 390.9L603.2 390.8L604.0 390.3L604.0 390.2L604.8 390.7L605.6 390.5L606.4 391.4L607.2 391.9L608.0 391.8L608.8 392.7L609.6 392.0L610.4 393.0L610.4 392.4L611.2 392.7L612.0 393.1L612.8 393.4L613.6 393.5L614.4 393.6L615.2 393.9L616.0 393.7L616.8 393.6L617.6 393.7L618.4 394.8L619.2 393.6L620.0 394.4L620.5 394.5L620.8 394.8L621.6 394.0L622.4 393.1L623.2 392.9L624.0 392.7L624.8 392.3L625.6 391.2L626.4 391.2L626.9 390.7L627.2 391.6L628.0 393.9L628.8 396.1L629.4 397.3L629.6 396.8L630.4 395.0L631.2 394.1L632.0 392.5L632.0 393.0L632.8 392.7L633.6 392.6L634.4 393.2L635.2 392.2L636.0 392.8L636.8 392.3L637.6 392.5L638.4 392.5L639.2 393.0L640.0 392.2L640.8 392.5L640.8 392.3L641.6 391.4L642.4 391.4L643.2 390.5L643.6 390.3L644.0 391.3L644.8 392.6L645.6 394.5L646.4 396.7L646.5 396.6L647.2 395.6L648.0 394.7L648.8 393.6L649.6 392.2L649.7 392.2L650.4 391.9L651.2 392.9L652.0 392.8L652.8 393.3L653.6 392.6L654.4 392.9L655.2 392.9L656.0 393.5L656.8 394.3L657.3 394.1L657.6 394.2L658.4 393.7L659.2 393.4L660.0 393.3L660.8 392.7L661.6 392.6L662.4 392.2L663.2 391.2L664.0 391.5L664.8 391.7L665.0 391.2L665.6 391.8L666.4 392.9L667.2 393.7L668.0 394.7L668.1 395.0L668.8 394.5L669.6 393.1L670.4 392.0L671.2 390.4L671.9 390.5L672.0 390.4L672.8 390.7L673.6 391.5L674.4 393.0L675.2 393.6L676.0 393.6L676.4 394.5L676.8 394.5L677.6 393.8L678.4 392.9L679.2 392.9L680.0 391.6L680.8 391.2L681.4 391.2L681.6 390.8L682.4 391.0L683.2 391.7L684.0 391.1L684.8 391.3L685.6 391.5L686.4 391.9L687.2 391.9L688.0 392.3L688.8 392.0L688.9 392.2L689.6 392.0L690.4 392.5L691.2 392.9L692.0 392.8L692.8 393.4L693.6 394.1L694.4 393.6L695.2 394.0L696.0 394.6L696.8 394.2L697.6 394.4L697.8 394.7L698.4 393.6L699.2 393.1L700.0 392.1L700.3 391.6L700.8 391.9L701.6 392.6L702.2 393.0L702.4 392.8L703.2 390.5L704.0 387.7L704.7 386.2L704.8 386.5L705.6 388.6L706.4 390.9L706.6 391.2L707.2 391.5L708.0 391.9L708.8 392.4L709.2 392.8L709.6 392.6L710.4 393.8L711.2 394.2L712.0 395.2L712.4 395.4L712.8 394.7L713.6 394.2L714.4 393.4L715.2 392.7L716.0 392.5L716.8 391.6L716.8 391.5L717.6 392.3L718.4 392.5L719.2 393.4L719.3 393.5L720.0 393.0L720.8 393.3L721.6 393.2L722.4 393.5L723.2 393.4L724.0 393.2L724.8 393.5L725.6 393.3L726.4 393.3L727.2 393.4L728.0 393.1L728.8 393.0L729.6 393.1L730.4 392.9L730.8 393.0L731.2 393.1L732.0 393.2L732.8 393.0L733.6 392.6L734.4 392.2L735.2 392.5L736.0 392.4L736.8 392.7L737.6 392.2L738.4 392.2L738.4 392.1L739.2 390.1L740.0 387.4L740.7 385.5L740.8 385.9L741.6 390.6L742.4 394.1L742.4 394.5L743.2 393.3L744.0 392.1L744.8 390.8L745.4 390.3L745.6 390.6L746.4 391.1L747.2 391.9L748.0 392.3L748.8 393.1L749.2 393.5L749.6 393.4L750.4 393.6L751.2 393.9L752.0 393.6L752.3 393.5L752.8 393.7L753.6 395.1L754.4 396.1L754.6 396.9L755.2 396.0L756.0 395.7L756.8 394.8L757.6 393.7L758.4 393.2L758.7 392.8L759.2 392.5L760.0 392.3L760.8 392.2L761.6 392.3L762.4 393.0L763.2 392.1L764.0 392.8L764.8 392.8L765.0 392.4L765.6 392.3L766.4 392.3L767.2 392.1L768.0 392.3L768.8 392.5L769.6 392.2L770.4 392.5L771.2 392.5L771.4 392.2L771.4 392.2" fill="none" stroke="#17653e" stroke-width="2" stroke-linejoin="round"/>
<path transform="translate(336.6 255.6) rotate(-26.66)" d="M-1.4 0H1.4V14.4H4.1L0 27.4L-4.1 14.4H-1.4Z" fill="#e8232f"/>
<path d="M369.0 262.6H371.8V274.1H374.5L370.4 288.6L366.3 274.1H369.0Z" fill="#e8232f"/>
<text x="628" y="79.9" style="font-family:'Liberation Sans',sans-serif;font-size:20.5px" fill="#231f20">3 K</text>
<circle cx="583.7" cy="108.5" r="6.8" fill="#fff" stroke="#4a4a4a" stroke-width="1.2"/>
<path d="M562.7 133.9H604.7" stroke="#d8323c" stroke-width="2.2"/>
<path d="M562.7 158.8H604.7" stroke="#287550" stroke-width="2.2"/>
<path d="M583.6 177V190.7" stroke="#7d87c4" stroke-width="1.2"/>
<text x="612.4" y="115.4" style="font-family:'Liberation Sans',sans-serif;font-size:17.6px" fill="#231f20">Observed</text>
<text x="612.4" y="140.1" style="font-family:'Liberation Sans',sans-serif;font-size:17.6px" fill="#231f20">Calculated</text>
<text x="612.4" y="165.0" style="font-family:'Liberation Sans',sans-serif;font-size:17.6px" fill="#231f20">Difference</text>
<text x="612.4" y="191.2" style="font-family:'Liberation Sans',sans-serif;font-size:17.6px" fill="#231f20">Bragg positions</text>
</svg>
</body></html>
